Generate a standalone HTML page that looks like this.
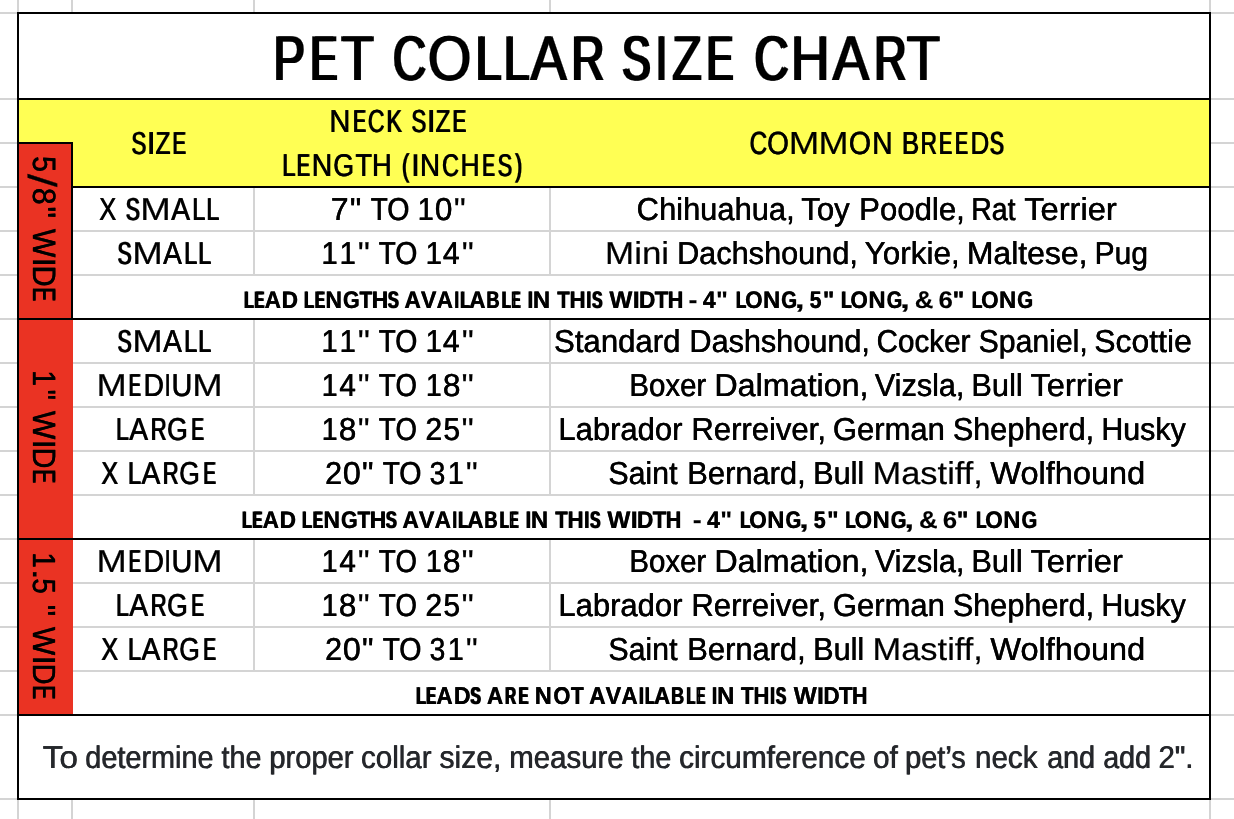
<!DOCTYPE html><html><head><meta charset="utf-8"><title>Pet Collar Size Chart</title><style>html,body{margin:0;padding:0;background:#fff;width:1234px;height:819px;overflow:hidden}svg{display:block}text{font-family:"Liberation Sans",sans-serif;text-rendering:geometricPrecision}</style></head><body>
<div style="will-change:transform;width:1234px;height:819px"><svg width="1234" height="819" viewBox="0 0 1234 819">
<g shape-rendering="crispEdges">
<rect x="0" y="0" width="1234" height="819" fill="#fff"/>
<rect x="0" y="12" width="17" height="2" fill="#d4d4d4"/>
<rect x="1211" y="12" width="23" height="2" fill="#d4d4d4"/>
<rect x="0" y="98" width="17" height="2" fill="#d4d4d4"/>
<rect x="1211" y="98" width="23" height="2" fill="#d4d4d4"/>
<rect x="0" y="142" width="17" height="2" fill="#d4d4d4"/>
<rect x="1211" y="142" width="23" height="2" fill="#d4d4d4"/>
<rect x="0" y="186" width="17" height="2" fill="#d4d4d4"/>
<rect x="1211" y="186" width="23" height="2" fill="#d4d4d4"/>
<rect x="0" y="230" width="17" height="2" fill="#d4d4d4"/>
<rect x="1211" y="230" width="23" height="2" fill="#d4d4d4"/>
<rect x="0" y="274" width="17" height="2" fill="#d4d4d4"/>
<rect x="1211" y="274" width="23" height="2" fill="#d4d4d4"/>
<rect x="0" y="318" width="17" height="2" fill="#d4d4d4"/>
<rect x="1211" y="318" width="23" height="2" fill="#d4d4d4"/>
<rect x="0" y="362" width="17" height="2" fill="#d4d4d4"/>
<rect x="1211" y="362" width="23" height="2" fill="#d4d4d4"/>
<rect x="0" y="406" width="17" height="2" fill="#d4d4d4"/>
<rect x="1211" y="406" width="23" height="2" fill="#d4d4d4"/>
<rect x="0" y="450" width="17" height="2" fill="#d4d4d4"/>
<rect x="1211" y="450" width="23" height="2" fill="#d4d4d4"/>
<rect x="0" y="494" width="17" height="2" fill="#d4d4d4"/>
<rect x="1211" y="494" width="23" height="2" fill="#d4d4d4"/>
<rect x="0" y="538" width="17" height="2" fill="#d4d4d4"/>
<rect x="1211" y="538" width="23" height="2" fill="#d4d4d4"/>
<rect x="0" y="582" width="17" height="2" fill="#d4d4d4"/>
<rect x="1211" y="582" width="23" height="2" fill="#d4d4d4"/>
<rect x="0" y="626" width="17" height="2" fill="#d4d4d4"/>
<rect x="1211" y="626" width="23" height="2" fill="#d4d4d4"/>
<rect x="0" y="670" width="17" height="2" fill="#d4d4d4"/>
<rect x="1211" y="670" width="23" height="2" fill="#d4d4d4"/>
<rect x="0" y="714" width="17" height="2" fill="#d4d4d4"/>
<rect x="1211" y="714" width="23" height="2" fill="#d4d4d4"/>
<rect x="0" y="798" width="17" height="2" fill="#d4d4d4"/>
<rect x="1211" y="798" width="23" height="2" fill="#d4d4d4"/>
<rect x="17" y="0" width="2" height="12" fill="#d4d4d4"/>
<rect x="17" y="800" width="2" height="19" fill="#d4d4d4"/>
<rect x="71" y="0" width="2" height="12" fill="#d4d4d4"/>
<rect x="71" y="800" width="2" height="19" fill="#d4d4d4"/>
<rect x="253" y="0" width="2" height="12" fill="#d4d4d4"/>
<rect x="253" y="800" width="2" height="19" fill="#d4d4d4"/>
<rect x="549" y="0" width="2" height="12" fill="#d4d4d4"/>
<rect x="549" y="800" width="2" height="19" fill="#d4d4d4"/>
<rect x="1209" y="0" width="2" height="12" fill="#d4d4d4"/>
<rect x="1209" y="800" width="2" height="19" fill="#d4d4d4"/>
<rect x="73" y="230" width="1136" height="2" fill="#d4d4d4"/>
<rect x="73" y="274" width="1136" height="2" fill="#d4d4d4"/>
<rect x="73" y="362" width="1136" height="2" fill="#d4d4d4"/>
<rect x="73" y="406" width="1136" height="2" fill="#d4d4d4"/>
<rect x="73" y="450" width="1136" height="2" fill="#d4d4d4"/>
<rect x="73" y="494" width="1136" height="2" fill="#d4d4d4"/>
<rect x="73" y="582" width="1136" height="2" fill="#d4d4d4"/>
<rect x="73" y="626" width="1136" height="2" fill="#d4d4d4"/>
<rect x="73" y="670" width="1136" height="2" fill="#d4d4d4"/>
<rect x="253" y="188" width="2" height="86" fill="#d4d4d4"/>
<rect x="549" y="188" width="2" height="86" fill="#d4d4d4"/>
<rect x="253" y="320" width="2" height="174" fill="#d4d4d4"/>
<rect x="549" y="320" width="2" height="174" fill="#d4d4d4"/>
<rect x="253" y="540" width="2" height="130" fill="#d4d4d4"/>
<rect x="549" y="540" width="2" height="130" fill="#d4d4d4"/>
<rect x="19" y="100" width="1190" height="86" fill="#ffff54"/>
<rect x="19" y="144" width="52" height="174" fill="#ea3323"/>
<rect x="19" y="320" width="54" height="218" fill="#ea3323"/>
<rect x="19" y="540" width="54" height="174" fill="#ea3323"/>
<rect x="17" y="12" width="1194" height="2" fill="#000"/>
<rect x="17" y="798" width="1194" height="2" fill="#000"/>
<rect x="17" y="12" width="2" height="788" fill="#000"/>
<rect x="1209" y="12" width="2" height="788" fill="#000"/>
<rect x="17" y="98" width="1194" height="2" fill="#000"/>
<rect x="17" y="142" width="56" height="2" fill="#000"/>
<rect x="71" y="142" width="2" height="178" fill="#000"/>
<rect x="71" y="186" width="1140" height="2" fill="#000"/>
<rect x="17" y="318" width="1194" height="2" fill="#000"/>
<rect x="17" y="538" width="1194" height="2" fill="#000"/>
<rect x="17" y="714" width="1194" height="2" fill="#000"/>
</g>
<text font-size="63.37" fill="#000" stroke="#000" stroke-width="0.2" vector-effect="non-scaling-stroke" transform="translate(272.26,79.80) scale(0.7504,1.0000)" xml:space="preserve">P</text>
<text font-size="63.37" fill="#000" stroke="#000" stroke-width="0.2" vector-effect="non-scaling-stroke" transform="translate(274.53,79.80) scale(0.7504,1.0000)" xml:space="preserve">P</text>
<text font-size="63.37" fill="#000" stroke="#000" stroke-width="0.2" vector-effect="non-scaling-stroke" transform="translate(309.08,79.80) scale(0.6324,1.0000)" xml:space="preserve">E</text>
<text font-size="63.37" fill="#000" stroke="#000" stroke-width="0.2" vector-effect="non-scaling-stroke" transform="translate(312.02,79.80) scale(0.6324,1.0000)" xml:space="preserve">E</text>
<text font-size="63.37" fill="#000" stroke="#000" stroke-width="0.2" vector-effect="non-scaling-stroke" transform="translate(340.12,79.80) scale(0.8601,1.0000)" xml:space="preserve">T</text>
<text font-size="63.37" fill="#000" stroke="#000" stroke-width="0.2" vector-effect="non-scaling-stroke" transform="translate(341.76,79.80) scale(0.8601,1.0000)" xml:space="preserve">T</text>
<text font-size="63.37" fill="#000" stroke="#000" stroke-width="0.2" vector-effect="non-scaling-stroke" transform="translate(391.73,79.80) scale(0.7304,1.0000)" xml:space="preserve">C</text>
<text font-size="63.37" fill="#000" stroke="#000" stroke-width="0.2" vector-effect="non-scaling-stroke" transform="translate(394.11,79.80) scale(0.7304,1.0000)" xml:space="preserve">C</text>
<text font-size="63.37" fill="#000" stroke="#000" stroke-width="0.2" vector-effect="non-scaling-stroke" transform="translate(427.04,79.80) scale(0.8855,1.0000)" xml:space="preserve">O</text>
<text font-size="63.37" fill="#000" stroke="#000" stroke-width="0.2" vector-effect="non-scaling-stroke" transform="translate(428.54,79.80) scale(0.8855,1.0000)" xml:space="preserve">O</text>
<text font-size="63.37" fill="#000" stroke="#000" stroke-width="0.2" vector-effect="non-scaling-stroke" transform="translate(474.33,79.80) scale(0.7376,1.0000)" xml:space="preserve">L</text>
<text font-size="63.37" fill="#000" stroke="#000" stroke-width="0.2" vector-effect="non-scaling-stroke" transform="translate(476.67,79.80) scale(0.7376,1.0000)" xml:space="preserve">L</text>
<text font-size="63.37" fill="#000" stroke="#000" stroke-width="0.2" vector-effect="non-scaling-stroke" transform="translate(502.53,79.80) scale(0.7376,1.0000)" xml:space="preserve">L</text>
<text font-size="63.37" fill="#000" stroke="#000" stroke-width="0.2" vector-effect="non-scaling-stroke" transform="translate(504.87,79.80) scale(0.7376,1.0000)" xml:space="preserve">L</text>
<text font-size="63.37" fill="#000" stroke="#000" stroke-width="0.2" vector-effect="non-scaling-stroke" transform="translate(529.69,79.80) scale(0.8527,1.0000)" xml:space="preserve">A</text>
<text font-size="63.37" fill="#000" stroke="#000" stroke-width="0.2" vector-effect="non-scaling-stroke" transform="translate(531.38,79.80) scale(0.8527,1.0000)" xml:space="preserve">A</text>
<text font-size="63.37" fill="#000" stroke="#000" stroke-width="0.2" vector-effect="non-scaling-stroke" transform="translate(570.33,79.80) scale(0.7187,1.0000)" xml:space="preserve">R</text>
<text font-size="63.37" fill="#000" stroke="#000" stroke-width="0.2" vector-effect="non-scaling-stroke" transform="translate(572.78,79.80) scale(0.7187,1.0000)" xml:space="preserve">R</text>
<text font-size="63.37" fill="#000" stroke="#000" stroke-width="0.2" vector-effect="non-scaling-stroke" transform="translate(620.76,79.80) scale(0.6739,1.0000)" xml:space="preserve">S</text>
<text font-size="63.37" fill="#000" stroke="#000" stroke-width="0.2" vector-effect="non-scaling-stroke" transform="translate(623.47,79.80) scale(0.6739,1.0000)" xml:space="preserve">S</text>
<text font-size="63.37" fill="#000" stroke="#000" stroke-width="0.2" vector-effect="non-scaling-stroke" transform="translate(654.00,79.80) scale(0.7660,1.0000)" xml:space="preserve">I</text>
<text font-size="63.37" fill="#000" stroke="#000" stroke-width="0.2" vector-effect="non-scaling-stroke" transform="translate(655.50,79.80) scale(0.7660,1.0000)" xml:space="preserve">I</text>
<text font-size="63.37" fill="#000" stroke="#000" stroke-width="0.2" vector-effect="non-scaling-stroke" transform="translate(671.17,79.80) scale(0.7626,1.0000)" xml:space="preserve">Z</text>
<text font-size="63.37" fill="#000" stroke="#000" stroke-width="0.2" vector-effect="non-scaling-stroke" transform="translate(673.37,79.80) scale(0.7626,1.0000)" xml:space="preserve">Z</text>
<text font-size="63.37" fill="#000" stroke="#000" stroke-width="0.2" vector-effect="non-scaling-stroke" transform="translate(705.18,79.80) scale(0.6324,1.0000)" xml:space="preserve">E</text>
<text font-size="63.37" fill="#000" stroke="#000" stroke-width="0.2" vector-effect="non-scaling-stroke" transform="translate(708.12,79.80) scale(0.6324,1.0000)" xml:space="preserve">E</text>
<text font-size="63.37" fill="#000" stroke="#000" stroke-width="0.2" vector-effect="non-scaling-stroke" transform="translate(753.37,79.80) scale(0.7479,1.0000)" xml:space="preserve">C</text>
<text font-size="63.37" fill="#000" stroke="#000" stroke-width="0.2" vector-effect="non-scaling-stroke" transform="translate(755.65,79.80) scale(0.7479,1.0000)" xml:space="preserve">C</text>
<text font-size="63.37" fill="#000" stroke="#000" stroke-width="0.2" vector-effect="non-scaling-stroke" transform="translate(789.71,79.80) scale(0.8543,1.0000)" xml:space="preserve">H</text>
<text font-size="63.37" fill="#000" stroke="#000" stroke-width="0.2" vector-effect="non-scaling-stroke" transform="translate(791.39,79.80) scale(0.8543,1.0000)" xml:space="preserve">H</text>
<text font-size="63.37" fill="#000" stroke="#000" stroke-width="0.2" vector-effect="non-scaling-stroke" transform="translate(831.79,79.80) scale(0.8637,1.0000)" xml:space="preserve">A</text>
<text font-size="63.37" fill="#000" stroke="#000" stroke-width="0.2" vector-effect="non-scaling-stroke" transform="translate(833.42,79.80) scale(0.8637,1.0000)" xml:space="preserve">A</text>
<text font-size="63.37" fill="#000" stroke="#000" stroke-width="0.2" vector-effect="non-scaling-stroke" transform="translate(873.09,79.80) scale(0.7061,1.0000)" xml:space="preserve">R</text>
<text font-size="63.37" fill="#000" stroke="#000" stroke-width="0.2" vector-effect="non-scaling-stroke" transform="translate(875.61,79.80) scale(0.7061,1.0000)" xml:space="preserve">R</text>
<text font-size="63.37" fill="#000" stroke="#000" stroke-width="0.2" vector-effect="non-scaling-stroke" transform="translate(905.80,79.80) scale(0.8733,1.0000)" xml:space="preserve">T</text>
<text font-size="63.37" fill="#000" stroke="#000" stroke-width="0.2" vector-effect="non-scaling-stroke" transform="translate(907.37,79.80) scale(0.8733,1.0000)" xml:space="preserve">T</text>
<text font-size="31.69" fill="#000" stroke="#000" stroke-width="0.2" vector-effect="non-scaling-stroke" transform="translate(130.95,153.80) scale(0.7007,1.0000)" xml:space="preserve">S</text>
<text font-size="31.69" fill="#000" stroke="#000" stroke-width="0.2" vector-effect="non-scaling-stroke" transform="translate(131.95,153.80) scale(0.7007,1.0000)" xml:space="preserve">S</text>
<text font-size="31.69" fill="#000" stroke="#000" stroke-width="0.2" vector-effect="non-scaling-stroke" transform="translate(146.47,153.80) scale(1.0872,1.0000)" xml:space="preserve">I</text>
<text font-size="31.69" fill="#000" stroke="#000" stroke-width="0.2" vector-effect="non-scaling-stroke" transform="translate(146.51,153.80) scale(1.0872,1.0000)" xml:space="preserve">I</text>
<text font-size="31.69" fill="#000" stroke="#000" stroke-width="0.2" vector-effect="non-scaling-stroke" transform="translate(155.14,153.80) scale(0.7644,1.0000)" xml:space="preserve">Z</text>
<text font-size="31.69" fill="#000" stroke="#000" stroke-width="0.2" vector-effect="non-scaling-stroke" transform="translate(155.95,153.80) scale(0.7644,1.0000)" xml:space="preserve">Z</text>
<text font-size="31.69" fill="#000" stroke="#000" stroke-width="0.2" vector-effect="non-scaling-stroke" transform="translate(171.91,153.80) scale(0.6447,1.0000)" xml:space="preserve">E</text>
<text font-size="31.69" fill="#000" stroke="#000" stroke-width="0.2" vector-effect="non-scaling-stroke" transform="translate(173.07,153.80) scale(0.6447,1.0000)" xml:space="preserve">E</text>
<text font-size="31.76" fill="#000" stroke="#000" stroke-width="0.2" vector-effect="non-scaling-stroke" transform="translate(329.19,131.90) scale(0.9199,1.0000)" xml:space="preserve">N</text>
<text font-size="31.76" fill="#000" stroke="#000" stroke-width="0.2" vector-effect="non-scaling-stroke" transform="translate(329.56,131.90) scale(0.9199,1.0000)" xml:space="preserve">N</text>
<text font-size="31.76" fill="#000" stroke="#000" stroke-width="0.2" vector-effect="non-scaling-stroke" transform="translate(352.39,131.90) scale(0.6117,1.0000)" xml:space="preserve">E</text>
<text font-size="31.76" fill="#000" stroke="#000" stroke-width="0.2" vector-effect="non-scaling-stroke" transform="translate(353.64,131.90) scale(0.6117,1.0000)" xml:space="preserve">E</text>
<text font-size="31.76" fill="#000" stroke="#000" stroke-width="0.2" vector-effect="non-scaling-stroke" transform="translate(367.41,131.90) scale(0.7298,1.0000)" xml:space="preserve">C</text>
<text font-size="31.76" fill="#000" stroke="#000" stroke-width="0.2" vector-effect="non-scaling-stroke" transform="translate(368.33,131.90) scale(0.7298,1.0000)" xml:space="preserve">C</text>
<text font-size="31.76" fill="#000" stroke="#000" stroke-width="0.2" vector-effect="non-scaling-stroke" transform="translate(386.09,131.90) scale(0.7272,1.0000)" xml:space="preserve">K</text>
<text font-size="31.76" fill="#000" stroke="#000" stroke-width="0.2" vector-effect="non-scaling-stroke" transform="translate(387.01,131.90) scale(0.7272,1.0000)" xml:space="preserve">K</text>
<text font-size="31.76" fill="#000" stroke="#000" stroke-width="0.2" vector-effect="non-scaling-stroke" transform="translate(411.06,131.90) scale(0.6953,1.0000)" xml:space="preserve">S</text>
<text font-size="31.76" fill="#000" stroke="#000" stroke-width="0.2" vector-effect="non-scaling-stroke" transform="translate(412.07,131.90) scale(0.6953,1.0000)" xml:space="preserve">S</text>
<text font-size="31.76" fill="#000" stroke="#000" stroke-width="0.2" vector-effect="non-scaling-stroke" transform="translate(426.56,131.90) scale(1.0933,1.0000)" xml:space="preserve">I</text>
<text font-size="31.76" fill="#000" stroke="#000" stroke-width="0.2" vector-effect="non-scaling-stroke" transform="translate(426.58,131.90) scale(1.0933,1.0000)" xml:space="preserve">I</text>
<text font-size="31.76" fill="#000" stroke="#000" stroke-width="0.2" vector-effect="non-scaling-stroke" transform="translate(435.24,131.90) scale(0.7647,1.0000)" xml:space="preserve">Z</text>
<text font-size="31.76" fill="#000" stroke="#000" stroke-width="0.2" vector-effect="non-scaling-stroke" transform="translate(436.05,131.90) scale(0.7647,1.0000)" xml:space="preserve">Z</text>
<text font-size="31.76" fill="#000" stroke="#000" stroke-width="0.2" vector-effect="non-scaling-stroke" transform="translate(452.02,131.90) scale(0.6394,1.0000)" xml:space="preserve">E</text>
<text font-size="31.76" fill="#000" stroke="#000" stroke-width="0.2" vector-effect="non-scaling-stroke" transform="translate(453.19,131.90) scale(0.6394,1.0000)" xml:space="preserve">E</text>
<text font-size="31.54" fill="#000" stroke="#000" stroke-width="0.2" vector-effect="non-scaling-stroke" transform="translate(281.68,175.50) scale(0.7704,1.0000)" xml:space="preserve">L</text>
<text font-size="31.54" fill="#000" stroke="#000" stroke-width="0.2" vector-effect="non-scaling-stroke" transform="translate(282.49,175.50) scale(0.7704,1.0000)" xml:space="preserve">L</text>
<text font-size="31.54" fill="#000" stroke="#000" stroke-width="0.2" vector-effect="non-scaling-stroke" transform="translate(296.37,175.50) scale(0.6216,1.0000)" xml:space="preserve">E</text>
<text font-size="31.54" fill="#000" stroke="#000" stroke-width="0.2" vector-effect="non-scaling-stroke" transform="translate(297.60,175.50) scale(0.6216,1.0000)" xml:space="preserve">E</text>
<text font-size="31.54" fill="#000" stroke="#000" stroke-width="0.2" vector-effect="non-scaling-stroke" transform="translate(311.54,175.50) scale(0.8995,1.0000)" xml:space="preserve">N</text>
<text font-size="31.54" fill="#000" stroke="#000" stroke-width="0.2" vector-effect="non-scaling-stroke" transform="translate(311.99,175.50) scale(0.8995,1.0000)" xml:space="preserve">N</text>
<text font-size="31.54" fill="#000" stroke="#000" stroke-width="0.2" vector-effect="non-scaling-stroke" transform="translate(332.92,175.50) scale(0.8493,1.0000)" xml:space="preserve">G</text>
<text font-size="31.54" fill="#000" stroke="#000" stroke-width="0.2" vector-effect="non-scaling-stroke" transform="translate(333.51,175.50) scale(0.8493,1.0000)" xml:space="preserve">G</text>
<text font-size="31.54" fill="#000" stroke="#000" stroke-width="0.2" vector-effect="non-scaling-stroke" transform="translate(355.26,175.50) scale(0.8584,1.0000)" xml:space="preserve">T</text>
<text font-size="31.54" fill="#000" stroke="#000" stroke-width="0.2" vector-effect="non-scaling-stroke" transform="translate(355.82,175.50) scale(0.8584,1.0000)" xml:space="preserve">T</text>
<text font-size="31.54" fill="#000" stroke="#000" stroke-width="0.2" vector-effect="non-scaling-stroke" transform="translate(371.63,175.50) scale(0.8657,1.0000)" xml:space="preserve">H</text>
<text font-size="31.54" fill="#000" stroke="#000" stroke-width="0.2" vector-effect="non-scaling-stroke" transform="translate(372.17,175.50) scale(0.8657,1.0000)" xml:space="preserve">H</text>
<text font-size="31.54" fill="#000" stroke="#000" stroke-width="0.2" vector-effect="non-scaling-stroke" transform="translate(401.43,175.50) scale(0.6865,1.0000)" xml:space="preserve">(</text>
<text font-size="31.54" fill="#000" stroke="#000" stroke-width="0.2" vector-effect="non-scaling-stroke" transform="translate(402.46,175.50) scale(0.6865,1.0000)" xml:space="preserve">(</text>
<text font-size="31.54" fill="#000" stroke="#000" stroke-width="0.2" vector-effect="non-scaling-stroke" transform="translate(410.44,175.50) scale(1.1333,1.0000)" xml:space="preserve">I</text>
<text font-size="31.54" fill="#000" stroke="#000" stroke-width="0.2" vector-effect="non-scaling-stroke" transform="translate(419.79,175.50) scale(0.8792,1.0000)" xml:space="preserve">N</text>
<text font-size="31.54" fill="#000" stroke="#000" stroke-width="0.2" vector-effect="non-scaling-stroke" transform="translate(420.30,175.50) scale(0.8792,1.0000)" xml:space="preserve">N</text>
<text font-size="31.54" fill="#000" stroke="#000" stroke-width="0.2" vector-effect="non-scaling-stroke" transform="translate(441.70,175.50) scale(0.7397,1.0000)" xml:space="preserve">C</text>
<text font-size="31.54" fill="#000" stroke="#000" stroke-width="0.2" vector-effect="non-scaling-stroke" transform="translate(442.60,175.50) scale(0.7397,1.0000)" xml:space="preserve">C</text>
<text font-size="31.54" fill="#000" stroke="#000" stroke-width="0.2" vector-effect="non-scaling-stroke" transform="translate(460.20,175.50) scale(0.8386,1.0000)" xml:space="preserve">H</text>
<text font-size="31.54" fill="#000" stroke="#000" stroke-width="0.2" vector-effect="non-scaling-stroke" transform="translate(460.82,175.50) scale(0.8386,1.0000)" xml:space="preserve">H</text>
<text font-size="31.54" fill="#000" stroke="#000" stroke-width="0.2" vector-effect="non-scaling-stroke" transform="translate(481.64,175.50) scale(0.5934,1.0000)" xml:space="preserve">E</text>
<text font-size="31.54" fill="#000" stroke="#000" stroke-width="0.2" vector-effect="non-scaling-stroke" transform="translate(482.95,175.50) scale(0.5934,1.0000)" xml:space="preserve">E</text>
<text font-size="31.54" fill="#000" stroke="#000" stroke-width="0.2" vector-effect="non-scaling-stroke" transform="translate(497.17,175.50) scale(0.6870,1.0000)" xml:space="preserve">S</text>
<text font-size="31.54" fill="#000" stroke="#000" stroke-width="0.2" vector-effect="non-scaling-stroke" transform="translate(498.22,175.50) scale(0.6870,1.0000)" xml:space="preserve">S</text>
<text font-size="31.54" fill="#000" stroke="#000" stroke-width="0.2" vector-effect="non-scaling-stroke" transform="translate(514.84,175.50) scale(0.6319,1.0000)" xml:space="preserve">)</text>
<text font-size="31.54" fill="#000" stroke="#000" stroke-width="0.2" vector-effect="non-scaling-stroke" transform="translate(516.03,175.50) scale(0.6319,1.0000)" xml:space="preserve">)</text>
<text font-size="31.98" fill="#000" stroke="#000" stroke-width="0.2" vector-effect="non-scaling-stroke" transform="translate(749.17,154.20) scale(0.7599,1.0000)" xml:space="preserve">C</text>
<text font-size="31.98" fill="#000" stroke="#000" stroke-width="0.2" vector-effect="non-scaling-stroke" transform="translate(749.98,154.20) scale(0.7599,1.0000)" xml:space="preserve">C</text>
<text font-size="31.98" fill="#000" stroke="#000" stroke-width="0.2" vector-effect="non-scaling-stroke" transform="translate(766.89,154.20) scale(0.8738,1.0000)" xml:space="preserve">O</text>
<text font-size="31.98" fill="#000" stroke="#000" stroke-width="0.2" vector-effect="non-scaling-stroke" transform="translate(767.37,154.20) scale(0.8738,1.0000)" xml:space="preserve">O</text>
<text font-size="31.98" fill="#000" stroke="#000" stroke-width="0.2" vector-effect="non-scaling-stroke" transform="translate(788.69,154.20) scale(1.1462,1.0000)" xml:space="preserve">M</text>
<text font-size="31.98" fill="#000" stroke="#000" stroke-width="0.2" vector-effect="non-scaling-stroke" transform="translate(818.54,154.20) scale(1.1275,1.0000)" xml:space="preserve">M</text>
<text font-size="31.98" fill="#000" stroke="#000" stroke-width="0.2" vector-effect="non-scaling-stroke" transform="translate(848.67,154.20) scale(0.8896,1.0000)" xml:space="preserve">O</text>
<text font-size="31.98" fill="#000" stroke="#000" stroke-width="0.2" vector-effect="non-scaling-stroke" transform="translate(849.11,154.20) scale(0.8896,1.0000)" xml:space="preserve">O</text>
<text font-size="31.98" fill="#000" stroke="#000" stroke-width="0.2" vector-effect="non-scaling-stroke" transform="translate(871.99,154.20) scale(0.8802,1.0000)" xml:space="preserve">N</text>
<text font-size="31.98" fill="#000" stroke="#000" stroke-width="0.2" vector-effect="non-scaling-stroke" transform="translate(872.46,154.20) scale(0.8802,1.0000)" xml:space="preserve">N</text>
<text font-size="31.98" fill="#000" stroke="#000" stroke-width="0.2" vector-effect="non-scaling-stroke" transform="translate(901.58,154.20) scale(0.8073,1.0000)" xml:space="preserve">B</text>
<text font-size="31.98" fill="#000" stroke="#000" stroke-width="0.2" vector-effect="non-scaling-stroke" transform="translate(902.26,154.20) scale(0.8073,1.0000)" xml:space="preserve">B</text>
<text font-size="31.98" fill="#000" stroke="#000" stroke-width="0.2" vector-effect="non-scaling-stroke" transform="translate(920.14,154.20) scale(0.7072,1.0000)" xml:space="preserve">R</text>
<text font-size="31.98" fill="#000" stroke="#000" stroke-width="0.2" vector-effect="non-scaling-stroke" transform="translate(921.11,154.20) scale(0.7072,1.0000)" xml:space="preserve">R</text>
<text font-size="31.98" fill="#000" stroke="#000" stroke-width="0.2" vector-effect="non-scaling-stroke" transform="translate(938.41,154.20) scale(0.6072,1.0000)" xml:space="preserve">E</text>
<text font-size="31.98" fill="#000" stroke="#000" stroke-width="0.2" vector-effect="non-scaling-stroke" transform="translate(939.66,154.20) scale(0.6072,1.0000)" xml:space="preserve">E</text>
<text font-size="31.98" fill="#000" stroke="#000" stroke-width="0.2" vector-effect="non-scaling-stroke" transform="translate(954.52,154.20) scale(0.6003,1.0000)" xml:space="preserve">E</text>
<text font-size="31.98" fill="#000" stroke="#000" stroke-width="0.2" vector-effect="non-scaling-stroke" transform="translate(955.79,154.20) scale(0.6003,1.0000)" xml:space="preserve">E</text>
<text font-size="31.98" fill="#000" stroke="#000" stroke-width="0.2" vector-effect="non-scaling-stroke" transform="translate(970.17,154.20) scale(0.8127,1.0000)" xml:space="preserve">D</text>
<text font-size="31.98" fill="#000" stroke="#000" stroke-width="0.2" vector-effect="non-scaling-stroke" transform="translate(970.83,154.20) scale(0.8127,1.0000)" xml:space="preserve">D</text>
<text font-size="31.98" fill="#000" stroke="#000" stroke-width="0.2" vector-effect="non-scaling-stroke" transform="translate(989.31,154.20) scale(0.6583,1.0000)" xml:space="preserve">S</text>
<text font-size="31.98" fill="#000" stroke="#000" stroke-width="0.2" vector-effect="non-scaling-stroke" transform="translate(990.42,154.20) scale(0.6583,1.0000)" xml:space="preserve">S</text>
<text font-size="31.69" fill="#000" stroke="#000" stroke-width="0.2" vector-effect="non-scaling-stroke" transform="translate(98.90,219.80) scale(0.8049,1.0000)" xml:space="preserve">X</text>
<text font-size="31.69" fill="#000" stroke="#000" stroke-width="0.2" vector-effect="non-scaling-stroke" transform="translate(99.60,219.80) scale(0.8049,1.0000)" xml:space="preserve">X</text>
<text font-size="31.69" fill="#000" stroke="#000" stroke-width="0.2" vector-effect="non-scaling-stroke" transform="translate(125.31,219.80) scale(0.6614,1.0000)" xml:space="preserve">S</text>
<text font-size="31.69" fill="#000" stroke="#000" stroke-width="0.2" vector-effect="non-scaling-stroke" transform="translate(126.42,219.80) scale(0.6614,1.0000)" xml:space="preserve">S</text>
<text font-size="31.69" fill="#000" stroke="#000" stroke-width="0.2" vector-effect="non-scaling-stroke" transform="translate(140.37,219.80) scale(1.1550,1.0000)" xml:space="preserve">M</text>
<text font-size="31.69" fill="#000" stroke="#000" stroke-width="0.2" vector-effect="non-scaling-stroke" transform="translate(171.09,219.80) scale(0.8877,1.0000)" xml:space="preserve">A</text>
<text font-size="31.69" fill="#000" stroke="#000" stroke-width="0.2" vector-effect="non-scaling-stroke" transform="translate(171.56,219.80) scale(0.8877,1.0000)" xml:space="preserve">A</text>
<text font-size="31.69" fill="#000" stroke="#000" stroke-width="0.2" vector-effect="non-scaling-stroke" transform="translate(191.97,219.80) scale(0.7358,1.0000)" xml:space="preserve">L</text>
<text font-size="31.69" fill="#000" stroke="#000" stroke-width="0.2" vector-effect="non-scaling-stroke" transform="translate(192.87,219.80) scale(0.7358,1.0000)" xml:space="preserve">L</text>
<text font-size="31.69" fill="#000" stroke="#000" stroke-width="0.2" vector-effect="non-scaling-stroke" transform="translate(205.97,219.80) scale(0.7358,1.0000)" xml:space="preserve">L</text>
<text font-size="31.69" fill="#000" stroke="#000" stroke-width="0.2" vector-effect="non-scaling-stroke" transform="translate(206.87,219.80) scale(0.7358,1.0000)" xml:space="preserve">L</text>
<text font-size="31.69" fill="#000" stroke="#000" stroke-width="0.2" vector-effect="non-scaling-stroke" transform="translate(330.75,219.80) scale(1.0151,1.0000)" xml:space="preserve">7</text>
<text font-size="31.69" fill="#000" stroke="#000" stroke-width="0.2" vector-effect="non-scaling-stroke" transform="translate(330.86,219.80) scale(1.0151,1.0000)" xml:space="preserve">7</text>
<text font-size="31.69" fill="#000" stroke="#000" stroke-width="0.2" vector-effect="non-scaling-stroke" transform="translate(349.81,219.80) scale(1.0075,1.0000)" xml:space="preserve">"</text>
<text font-size="31.69" fill="#000" stroke="#000" stroke-width="0.2" vector-effect="non-scaling-stroke" transform="translate(349.95,219.80) scale(1.0075,1.0000)" xml:space="preserve">"</text>
<text font-size="31.69" fill="#000" stroke="#000" stroke-width="0.2" vector-effect="non-scaling-stroke" transform="translate(370.44,219.80) scale(0.8786,1.0000)" xml:space="preserve">T</text>
<text font-size="31.69" fill="#000" stroke="#000" stroke-width="0.2" vector-effect="non-scaling-stroke" transform="translate(370.94,219.80) scale(0.8786,1.0000)" xml:space="preserve">T</text>
<text font-size="31.69" fill="#000" stroke="#000" stroke-width="0.2" vector-effect="non-scaling-stroke" transform="translate(386.95,219.80) scale(0.9002,1.0000)" xml:space="preserve">O</text>
<text font-size="31.69" fill="#000" stroke="#000" stroke-width="0.2" vector-effect="non-scaling-stroke" transform="translate(387.38,219.80) scale(0.9002,1.0000)" xml:space="preserve">O</text>
<text font-size="31.69" fill="#000" stroke="#000" stroke-width="0.2" vector-effect="non-scaling-stroke" transform="translate(417.54,219.80) scale(0.9083,1.0000)" xml:space="preserve">1</text>
<text font-size="31.69" fill="#000" stroke="#000" stroke-width="0.2" vector-effect="non-scaling-stroke" transform="translate(417.95,219.80) scale(0.9083,1.0000)" xml:space="preserve">1</text>
<text font-size="31.69" fill="#000" stroke="#000" stroke-width="0.2" vector-effect="non-scaling-stroke" transform="translate(434.86,219.80) scale(0.9939,1.0000)" xml:space="preserve">0</text>
<text font-size="31.69" fill="#000" stroke="#000" stroke-width="0.2" vector-effect="non-scaling-stroke" transform="translate(435.03,219.80) scale(0.9939,1.0000)" xml:space="preserve">0</text>
<text font-size="31.69" fill="#000" stroke="#000" stroke-width="0.2" vector-effect="non-scaling-stroke" transform="translate(453.63,219.80) scale(1.0706,1.0000)" xml:space="preserve">"</text>
<text font-size="31.69" fill="#000" stroke="#000" stroke-width="0.2" vector-effect="non-scaling-stroke" transform="translate(636.62,219.80) scale(0.9743,1.0000)" xml:space="preserve">Chihuahua,</text>
<text font-size="31.69" fill="#000" stroke="#000" stroke-width="0.2" vector-effect="non-scaling-stroke" transform="translate(636.84,219.80) scale(0.9743,1.0000)" xml:space="preserve">Chihuahua,</text>
<text font-size="31.69" fill="#000" stroke="#000" stroke-width="0.2" vector-effect="non-scaling-stroke" transform="translate(801.16,219.80) scale(0.9814,1.0000)" xml:space="preserve">Toy</text>
<text font-size="31.69" fill="#000" stroke="#000" stroke-width="0.2" vector-effect="non-scaling-stroke" transform="translate(801.37,219.80) scale(0.9814,1.0000)" xml:space="preserve">Toy</text>
<text font-size="31.69" fill="#000" stroke="#000" stroke-width="0.2" vector-effect="non-scaling-stroke" transform="translate(859.12,219.80) scale(0.9824,1.0000)" xml:space="preserve">Poodle,</text>
<text font-size="31.69" fill="#000" stroke="#000" stroke-width="0.2" vector-effect="non-scaling-stroke" transform="translate(859.32,219.80) scale(0.9824,1.0000)" xml:space="preserve">Poodle,</text>
<text font-size="31.69" fill="#000" stroke="#000" stroke-width="0.2" vector-effect="non-scaling-stroke" transform="translate(971.04,219.80) scale(0.8981,1.0000)" xml:space="preserve">Rat</text>
<text font-size="31.69" fill="#000" stroke="#000" stroke-width="0.2" vector-effect="non-scaling-stroke" transform="translate(971.48,219.80) scale(0.8981,1.0000)" xml:space="preserve">Rat</text>
<text font-size="31.69" fill="#000" stroke="#000" stroke-width="0.2" vector-effect="non-scaling-stroke" transform="translate(1024.23,219.80) scale(1.0298,1.0000)" xml:space="preserve">Terrier</text>
<text font-size="31.69" fill="#000" stroke="#000" stroke-width="0.2" vector-effect="non-scaling-stroke" transform="translate(1024.29,219.80) scale(1.0298,1.0000)" xml:space="preserve">Terrier</text>
<text font-size="31.69" fill="#000" stroke="#000" stroke-width="0.2" vector-effect="non-scaling-stroke" transform="translate(117.11,263.80) scale(0.6614,1.0000)" xml:space="preserve">S</text>
<text font-size="31.69" fill="#000" stroke="#000" stroke-width="0.2" vector-effect="non-scaling-stroke" transform="translate(118.22,263.80) scale(0.6614,1.0000)" xml:space="preserve">S</text>
<text font-size="31.69" fill="#000" stroke="#000" stroke-width="0.2" vector-effect="non-scaling-stroke" transform="translate(132.17,263.80) scale(1.1550,1.0000)" xml:space="preserve">M</text>
<text font-size="31.69" fill="#000" stroke="#000" stroke-width="0.2" vector-effect="non-scaling-stroke" transform="translate(162.89,263.80) scale(0.8877,1.0000)" xml:space="preserve">A</text>
<text font-size="31.69" fill="#000" stroke="#000" stroke-width="0.2" vector-effect="non-scaling-stroke" transform="translate(163.36,263.80) scale(0.8877,1.0000)" xml:space="preserve">A</text>
<text font-size="31.69" fill="#000" stroke="#000" stroke-width="0.2" vector-effect="non-scaling-stroke" transform="translate(183.77,263.80) scale(0.7358,1.0000)" xml:space="preserve">L</text>
<text font-size="31.69" fill="#000" stroke="#000" stroke-width="0.2" vector-effect="non-scaling-stroke" transform="translate(184.67,263.80) scale(0.7358,1.0000)" xml:space="preserve">L</text>
<text font-size="31.69" fill="#000" stroke="#000" stroke-width="0.2" vector-effect="non-scaling-stroke" transform="translate(197.77,263.80) scale(0.7358,1.0000)" xml:space="preserve">L</text>
<text font-size="31.69" fill="#000" stroke="#000" stroke-width="0.2" vector-effect="non-scaling-stroke" transform="translate(198.67,263.80) scale(0.7358,1.0000)" xml:space="preserve">L</text>
<text font-size="31.69" fill="#000" stroke="#000" stroke-width="0.2" vector-effect="non-scaling-stroke" transform="translate(321.32,263.80) scale(0.9175,1.0000)" xml:space="preserve">1</text>
<text font-size="31.69" fill="#000" stroke="#000" stroke-width="0.2" vector-effect="non-scaling-stroke" transform="translate(321.71,263.80) scale(0.9175,1.0000)" xml:space="preserve">1</text>
<text font-size="31.69" fill="#000" stroke="#000" stroke-width="0.2" vector-effect="non-scaling-stroke" transform="translate(339.42,263.80) scale(0.9175,1.0000)" xml:space="preserve">1</text>
<text font-size="31.69" fill="#000" stroke="#000" stroke-width="0.2" vector-effect="non-scaling-stroke" transform="translate(339.81,263.80) scale(0.9175,1.0000)" xml:space="preserve">1</text>
<text font-size="31.69" fill="#000" stroke="#000" stroke-width="0.2" vector-effect="non-scaling-stroke" transform="translate(357.71,263.80) scale(1.0824,1.0000)" xml:space="preserve">"</text>
<text font-size="31.69" fill="#000" stroke="#000" stroke-width="0.2" vector-effect="non-scaling-stroke" transform="translate(378.54,263.80) scale(0.8786,1.0000)" xml:space="preserve">T</text>
<text font-size="31.69" fill="#000" stroke="#000" stroke-width="0.2" vector-effect="non-scaling-stroke" transform="translate(379.04,263.80) scale(0.8786,1.0000)" xml:space="preserve">T</text>
<text font-size="31.69" fill="#000" stroke="#000" stroke-width="0.2" vector-effect="non-scaling-stroke" transform="translate(395.06,263.80) scale(0.8949,1.0000)" xml:space="preserve">O</text>
<text font-size="31.69" fill="#000" stroke="#000" stroke-width="0.2" vector-effect="non-scaling-stroke" transform="translate(395.51,263.80) scale(0.8949,1.0000)" xml:space="preserve">O</text>
<text font-size="31.69" fill="#000" stroke="#000" stroke-width="0.2" vector-effect="non-scaling-stroke" transform="translate(425.40,263.80) scale(0.9267,1.0000)" xml:space="preserve">1</text>
<text font-size="31.69" fill="#000" stroke="#000" stroke-width="0.2" vector-effect="non-scaling-stroke" transform="translate(425.76,263.80) scale(0.9267,1.0000)" xml:space="preserve">1</text>
<text font-size="31.69" fill="#000" stroke="#000" stroke-width="0.2" vector-effect="non-scaling-stroke" transform="translate(442.79,263.80) scale(0.9506,1.0000)" xml:space="preserve">4</text>
<text font-size="31.69" fill="#000" stroke="#000" stroke-width="0.2" vector-effect="non-scaling-stroke" transform="translate(443.08,263.80) scale(0.9506,1.0000)" xml:space="preserve">4</text>
<text font-size="31.69" fill="#000" stroke="#000" stroke-width="0.2" vector-effect="non-scaling-stroke" transform="translate(461.73,263.80) scale(1.0706,1.0000)" xml:space="preserve">"</text>
<text font-size="31.69" fill="#000" stroke="#000" stroke-width="0.2" vector-effect="non-scaling-stroke" transform="translate(605.11,263.80) scale(1.1016,1.0000)" xml:space="preserve">Mini</text>
<text font-size="31.69" fill="#000" stroke="#000" stroke-width="0.2" vector-effect="non-scaling-stroke" transform="translate(676.96,263.80) scale(0.9681,1.0000)" xml:space="preserve">Dachshound,</text>
<text font-size="31.69" fill="#000" stroke="#000" stroke-width="0.2" vector-effect="non-scaling-stroke" transform="translate(677.20,263.80) scale(0.9681,1.0000)" xml:space="preserve">Dachshound,</text>
<text font-size="31.69" fill="#000" stroke="#000" stroke-width="0.2" vector-effect="non-scaling-stroke" transform="translate(864.55,263.80) scale(0.9936,1.0000)" xml:space="preserve">Yorkie,</text>
<text font-size="31.69" fill="#000" stroke="#000" stroke-width="0.2" vector-effect="non-scaling-stroke" transform="translate(864.72,263.80) scale(0.9936,1.0000)" xml:space="preserve">Yorkie,</text>
<text font-size="31.69" fill="#000" stroke="#000" stroke-width="0.2" vector-effect="non-scaling-stroke" transform="translate(966.75,263.80) scale(1.0081,1.0000)" xml:space="preserve">Maltese,</text>
<text font-size="31.69" fill="#000" stroke="#000" stroke-width="0.2" vector-effect="non-scaling-stroke" transform="translate(966.88,263.80) scale(1.0081,1.0000)" xml:space="preserve">Maltese,</text>
<text font-size="31.69" fill="#000" stroke="#000" stroke-width="0.2" vector-effect="non-scaling-stroke" transform="translate(1094.52,263.80) scale(0.9448,1.0000)" xml:space="preserve">Pug</text>
<text font-size="31.69" fill="#000" stroke="#000" stroke-width="0.2" vector-effect="non-scaling-stroke" transform="translate(1094.83,263.80) scale(0.9448,1.0000)" xml:space="preserve">Pug</text>
<text font-size="31.69" fill="#000" stroke="#000" stroke-width="0.2" vector-effect="non-scaling-stroke" transform="translate(117.11,351.80) scale(0.6614,1.0000)" xml:space="preserve">S</text>
<text font-size="31.69" fill="#000" stroke="#000" stroke-width="0.2" vector-effect="non-scaling-stroke" transform="translate(118.22,351.80) scale(0.6614,1.0000)" xml:space="preserve">S</text>
<text font-size="31.69" fill="#000" stroke="#000" stroke-width="0.2" vector-effect="non-scaling-stroke" transform="translate(132.17,351.80) scale(1.1550,1.0000)" xml:space="preserve">M</text>
<text font-size="31.69" fill="#000" stroke="#000" stroke-width="0.2" vector-effect="non-scaling-stroke" transform="translate(162.89,351.80) scale(0.8877,1.0000)" xml:space="preserve">A</text>
<text font-size="31.69" fill="#000" stroke="#000" stroke-width="0.2" vector-effect="non-scaling-stroke" transform="translate(163.36,351.80) scale(0.8877,1.0000)" xml:space="preserve">A</text>
<text font-size="31.69" fill="#000" stroke="#000" stroke-width="0.2" vector-effect="non-scaling-stroke" transform="translate(183.77,351.80) scale(0.7358,1.0000)" xml:space="preserve">L</text>
<text font-size="31.69" fill="#000" stroke="#000" stroke-width="0.2" vector-effect="non-scaling-stroke" transform="translate(184.67,351.80) scale(0.7358,1.0000)" xml:space="preserve">L</text>
<text font-size="31.69" fill="#000" stroke="#000" stroke-width="0.2" vector-effect="non-scaling-stroke" transform="translate(197.77,351.80) scale(0.7358,1.0000)" xml:space="preserve">L</text>
<text font-size="31.69" fill="#000" stroke="#000" stroke-width="0.2" vector-effect="non-scaling-stroke" transform="translate(198.67,351.80) scale(0.7358,1.0000)" xml:space="preserve">L</text>
<text font-size="31.69" fill="#000" stroke="#000" stroke-width="0.2" vector-effect="non-scaling-stroke" transform="translate(321.32,351.80) scale(0.9175,1.0000)" xml:space="preserve">1</text>
<text font-size="31.69" fill="#000" stroke="#000" stroke-width="0.2" vector-effect="non-scaling-stroke" transform="translate(321.71,351.80) scale(0.9175,1.0000)" xml:space="preserve">1</text>
<text font-size="31.69" fill="#000" stroke="#000" stroke-width="0.2" vector-effect="non-scaling-stroke" transform="translate(339.42,351.80) scale(0.9175,1.0000)" xml:space="preserve">1</text>
<text font-size="31.69" fill="#000" stroke="#000" stroke-width="0.2" vector-effect="non-scaling-stroke" transform="translate(339.81,351.80) scale(0.9175,1.0000)" xml:space="preserve">1</text>
<text font-size="31.69" fill="#000" stroke="#000" stroke-width="0.2" vector-effect="non-scaling-stroke" transform="translate(357.71,351.80) scale(1.0824,1.0000)" xml:space="preserve">"</text>
<text font-size="31.69" fill="#000" stroke="#000" stroke-width="0.2" vector-effect="non-scaling-stroke" transform="translate(378.54,351.80) scale(0.8786,1.0000)" xml:space="preserve">T</text>
<text font-size="31.69" fill="#000" stroke="#000" stroke-width="0.2" vector-effect="non-scaling-stroke" transform="translate(379.04,351.80) scale(0.8786,1.0000)" xml:space="preserve">T</text>
<text font-size="31.69" fill="#000" stroke="#000" stroke-width="0.2" vector-effect="non-scaling-stroke" transform="translate(395.06,351.80) scale(0.8949,1.0000)" xml:space="preserve">O</text>
<text font-size="31.69" fill="#000" stroke="#000" stroke-width="0.2" vector-effect="non-scaling-stroke" transform="translate(395.51,351.80) scale(0.8949,1.0000)" xml:space="preserve">O</text>
<text font-size="31.69" fill="#000" stroke="#000" stroke-width="0.2" vector-effect="non-scaling-stroke" transform="translate(425.40,351.80) scale(0.9267,1.0000)" xml:space="preserve">1</text>
<text font-size="31.69" fill="#000" stroke="#000" stroke-width="0.2" vector-effect="non-scaling-stroke" transform="translate(425.76,351.80) scale(0.9267,1.0000)" xml:space="preserve">1</text>
<text font-size="31.69" fill="#000" stroke="#000" stroke-width="0.2" vector-effect="non-scaling-stroke" transform="translate(442.79,351.80) scale(0.9506,1.0000)" xml:space="preserve">4</text>
<text font-size="31.69" fill="#000" stroke="#000" stroke-width="0.2" vector-effect="non-scaling-stroke" transform="translate(443.08,351.80) scale(0.9506,1.0000)" xml:space="preserve">4</text>
<text font-size="31.69" fill="#000" stroke="#000" stroke-width="0.2" vector-effect="non-scaling-stroke" transform="translate(461.73,351.80) scale(1.0706,1.0000)" xml:space="preserve">"</text>
<text font-size="31.69" fill="#000" stroke="#000" stroke-width="0.2" vector-effect="non-scaling-stroke" transform="translate(553.93,351.80) scale(0.9832,1.0000)" xml:space="preserve">Standard</text>
<text font-size="31.69" fill="#000" stroke="#000" stroke-width="0.2" vector-effect="non-scaling-stroke" transform="translate(554.12,351.80) scale(0.9832,1.0000)" xml:space="preserve">Standard</text>
<text font-size="31.69" fill="#000" stroke="#000" stroke-width="0.2" vector-effect="non-scaling-stroke" transform="translate(689.26,351.80) scale(0.9669,1.0000)" xml:space="preserve">Dashshound,</text>
<text font-size="31.69" fill="#000" stroke="#000" stroke-width="0.2" vector-effect="non-scaling-stroke" transform="translate(689.50,351.80) scale(0.9669,1.0000)" xml:space="preserve">Dashshound,</text>
<text font-size="31.69" fill="#000" stroke="#000" stroke-width="0.2" vector-effect="non-scaling-stroke" transform="translate(876.48,351.80) scale(0.9340,1.0000)" xml:space="preserve">Cocker</text>
<text font-size="31.69" fill="#000" stroke="#000" stroke-width="0.2" vector-effect="non-scaling-stroke" transform="translate(876.82,351.80) scale(0.9340,1.0000)" xml:space="preserve">Cocker</text>
<text font-size="31.69" fill="#000" stroke="#000" stroke-width="0.2" vector-effect="non-scaling-stroke" transform="translate(978.47,351.80) scale(0.9536,1.0000)" xml:space="preserve">Spaniel,</text>
<text font-size="31.69" fill="#000" stroke="#000" stroke-width="0.2" vector-effect="non-scaling-stroke" transform="translate(978.75,351.80) scale(0.9536,1.0000)" xml:space="preserve">Spaniel,</text>
<text font-size="31.69" fill="#000" stroke="#000" stroke-width="0.2" vector-effect="non-scaling-stroke" transform="translate(1094.19,351.80) scale(1.0082,1.0000)" xml:space="preserve">Scottie</text>
<text font-size="31.69" fill="#000" stroke="#000" stroke-width="0.2" vector-effect="non-scaling-stroke" transform="translate(1094.31,351.80) scale(1.0082,1.0000)" xml:space="preserve">Scottie</text>
<text font-size="31.69" fill="#000" stroke="#000" stroke-width="0.2" vector-effect="non-scaling-stroke" transform="translate(96.39,395.80) scale(1.1456,1.0000)" xml:space="preserve">M</text>
<text font-size="31.69" fill="#000" stroke="#000" stroke-width="0.2" vector-effect="non-scaling-stroke" transform="translate(128.21,395.80) scale(0.5677,1.0000)" xml:space="preserve">E</text>
<text font-size="31.69" fill="#000" stroke="#000" stroke-width="0.2" vector-effect="non-scaling-stroke" transform="translate(129.59,395.80) scale(0.5677,1.0000)" xml:space="preserve">E</text>
<text font-size="31.69" fill="#000" stroke="#000" stroke-width="0.2" vector-effect="non-scaling-stroke" transform="translate(143.36,395.80) scale(0.8932,1.0000)" xml:space="preserve">D</text>
<text font-size="31.69" fill="#000" stroke="#000" stroke-width="0.2" vector-effect="non-scaling-stroke" transform="translate(143.81,395.80) scale(0.8932,1.0000)" xml:space="preserve">D</text>
<text font-size="31.69" fill="#000" stroke="#000" stroke-width="0.2" vector-effect="non-scaling-stroke" transform="translate(164.43,395.80) scale(0.6500,1.0000)" xml:space="preserve">I</text>
<text font-size="31.69" fill="#000" stroke="#000" stroke-width="0.2" vector-effect="non-scaling-stroke" transform="translate(165.08,395.80) scale(0.6500,1.0000)" xml:space="preserve">I</text>
<text font-size="31.69" fill="#000" stroke="#000" stroke-width="0.2" vector-effect="non-scaling-stroke" transform="translate(171.32,395.80) scale(0.9119,1.0000)" xml:space="preserve">U</text>
<text font-size="31.69" fill="#000" stroke="#000" stroke-width="0.2" vector-effect="non-scaling-stroke" transform="translate(171.72,395.80) scale(0.9119,1.0000)" xml:space="preserve">U</text>
<text font-size="31.69" fill="#000" stroke="#000" stroke-width="0.2" vector-effect="non-scaling-stroke" transform="translate(192.18,395.80) scale(1.1503,1.0000)" xml:space="preserve">M</text>
<text font-size="31.69" fill="#000" stroke="#000" stroke-width="0.2" vector-effect="non-scaling-stroke" transform="translate(321.46,395.80) scale(0.8992,1.0000)" xml:space="preserve">1</text>
<text font-size="31.69" fill="#000" stroke="#000" stroke-width="0.2" vector-effect="non-scaling-stroke" transform="translate(321.90,395.80) scale(0.8992,1.0000)" xml:space="preserve">1</text>
<text font-size="31.69" fill="#000" stroke="#000" stroke-width="0.2" vector-effect="non-scaling-stroke" transform="translate(339.20,395.80) scale(0.9354,1.0000)" xml:space="preserve">4</text>
<text font-size="31.69" fill="#000" stroke="#000" stroke-width="0.2" vector-effect="non-scaling-stroke" transform="translate(339.53,395.80) scale(0.9354,1.0000)" xml:space="preserve">4</text>
<text font-size="31.69" fill="#000" stroke="#000" stroke-width="0.2" vector-effect="non-scaling-stroke" transform="translate(357.74,395.80) scale(1.0588,1.0000)" xml:space="preserve">"</text>
<text font-size="31.69" fill="#000" stroke="#000" stroke-width="0.2" vector-effect="non-scaling-stroke" transform="translate(378.44,395.80) scale(0.8786,1.0000)" xml:space="preserve">T</text>
<text font-size="31.69" fill="#000" stroke="#000" stroke-width="0.2" vector-effect="non-scaling-stroke" transform="translate(378.94,395.80) scale(0.8786,1.0000)" xml:space="preserve">T</text>
<text font-size="31.69" fill="#000" stroke="#000" stroke-width="0.2" vector-effect="non-scaling-stroke" transform="translate(395.30,395.80) scale(0.8683,1.0000)" xml:space="preserve">O</text>
<text font-size="31.69" fill="#000" stroke="#000" stroke-width="0.2" vector-effect="non-scaling-stroke" transform="translate(395.82,395.80) scale(0.8683,1.0000)" xml:space="preserve">O</text>
<text font-size="31.69" fill="#000" stroke="#000" stroke-width="0.2" vector-effect="non-scaling-stroke" transform="translate(425.69,395.80) scale(0.8900,1.0000)" xml:space="preserve">1</text>
<text font-size="31.69" fill="#000" stroke="#000" stroke-width="0.2" vector-effect="non-scaling-stroke" transform="translate(426.15,395.80) scale(0.8900,1.0000)" xml:space="preserve">1</text>
<text font-size="31.69" fill="#000" stroke="#000" stroke-width="0.2" vector-effect="non-scaling-stroke" transform="translate(442.83,395.80) scale(0.9979,1.0000)" xml:space="preserve">8</text>
<text font-size="31.69" fill="#000" stroke="#000" stroke-width="0.2" vector-effect="non-scaling-stroke" transform="translate(442.98,395.80) scale(0.9979,1.0000)" xml:space="preserve">8</text>
<text font-size="31.69" fill="#000" stroke="#000" stroke-width="0.2" vector-effect="non-scaling-stroke" transform="translate(461.60,395.80) scale(1.0941,1.0000)" xml:space="preserve">"</text>
<text font-size="31.69" fill="#000" stroke="#000" stroke-width="0.2" vector-effect="non-scaling-stroke" transform="translate(629.27,395.80) scale(0.9274,1.0000)" xml:space="preserve">Boxer</text>
<text font-size="31.69" fill="#000" stroke="#000" stroke-width="0.2" vector-effect="non-scaling-stroke" transform="translate(629.62,395.80) scale(0.9274,1.0000)" xml:space="preserve">Boxer</text>
<text font-size="31.69" fill="#000" stroke="#000" stroke-width="0.2" vector-effect="non-scaling-stroke" transform="translate(714.33,395.80) scale(1.0178,1.0000)" xml:space="preserve">Dalmation,</text>
<text font-size="31.69" fill="#000" stroke="#000" stroke-width="0.2" vector-effect="non-scaling-stroke" transform="translate(714.43,395.80) scale(1.0178,1.0000)" xml:space="preserve">Dalmation,</text>
<text font-size="31.69" fill="#000" stroke="#000" stroke-width="0.2" vector-effect="non-scaling-stroke" transform="translate(874.76,395.80) scale(0.9646,1.0000)" xml:space="preserve">Vizsla,</text>
<text font-size="31.69" fill="#000" stroke="#000" stroke-width="0.2" vector-effect="non-scaling-stroke" transform="translate(875.01,395.80) scale(0.9646,1.0000)" xml:space="preserve">Vizsla,</text>
<text font-size="31.69" fill="#000" stroke="#000" stroke-width="0.2" vector-effect="non-scaling-stroke" transform="translate(971.35,395.80) scale(0.9697,1.0000)" xml:space="preserve">Bull</text>
<text font-size="31.69" fill="#000" stroke="#000" stroke-width="0.2" vector-effect="non-scaling-stroke" transform="translate(971.59,395.80) scale(0.9697,1.0000)" xml:space="preserve">Bull</text>
<text font-size="31.69" fill="#000" stroke="#000" stroke-width="0.2" vector-effect="non-scaling-stroke" transform="translate(1030.43,395.80) scale(1.0286,1.0000)" xml:space="preserve">Terrier</text>
<text font-size="31.69" fill="#000" stroke="#000" stroke-width="0.2" vector-effect="non-scaling-stroke" transform="translate(1030.50,395.80) scale(1.0286,1.0000)" xml:space="preserve">Terrier</text>
<text font-size="31.69" fill="#000" stroke="#000" stroke-width="0.2" vector-effect="non-scaling-stroke" transform="translate(115.45,439.80) scale(0.7447,1.0000)" xml:space="preserve">L</text>
<text font-size="31.69" fill="#000" stroke="#000" stroke-width="0.2" vector-effect="non-scaling-stroke" transform="translate(116.32,439.80) scale(0.7447,1.0000)" xml:space="preserve">L</text>
<text font-size="31.69" fill="#000" stroke="#000" stroke-width="0.2" vector-effect="non-scaling-stroke" transform="translate(129.09,439.80) scale(0.8877,1.0000)" xml:space="preserve">A</text>
<text font-size="31.69" fill="#000" stroke="#000" stroke-width="0.2" vector-effect="non-scaling-stroke" transform="translate(129.56,439.80) scale(0.8877,1.0000)" xml:space="preserve">A</text>
<text font-size="31.69" fill="#000" stroke="#000" stroke-width="0.2" vector-effect="non-scaling-stroke" transform="translate(150.18,439.80) scale(0.6920,1.0000)" xml:space="preserve">R</text>
<text font-size="31.69" fill="#000" stroke="#000" stroke-width="0.2" vector-effect="non-scaling-stroke" transform="translate(151.21,439.80) scale(0.6920,1.0000)" xml:space="preserve">R</text>
<text font-size="31.69" fill="#000" stroke="#000" stroke-width="0.2" vector-effect="non-scaling-stroke" transform="translate(166.85,439.80) scale(0.8327,1.0000)" xml:space="preserve">G</text>
<text font-size="31.69" fill="#000" stroke="#000" stroke-width="0.2" vector-effect="non-scaling-stroke" transform="translate(167.47,439.80) scale(0.8327,1.0000)" xml:space="preserve">G</text>
<text font-size="31.69" fill="#000" stroke="#000" stroke-width="0.2" vector-effect="non-scaling-stroke" transform="translate(190.64,439.80) scale(0.5957,1.0000)" xml:space="preserve">E</text>
<text font-size="31.69" fill="#000" stroke="#000" stroke-width="0.2" vector-effect="non-scaling-stroke" transform="translate(191.93,439.80) scale(0.5957,1.0000)" xml:space="preserve">E</text>
<text font-size="31.69" fill="#000" stroke="#000" stroke-width="0.2" vector-effect="non-scaling-stroke" transform="translate(321.46,439.80) scale(0.8992,1.0000)" xml:space="preserve">1</text>
<text font-size="31.69" fill="#000" stroke="#000" stroke-width="0.2" vector-effect="non-scaling-stroke" transform="translate(321.90,439.80) scale(0.8992,1.0000)" xml:space="preserve">1</text>
<text font-size="31.69" fill="#000" stroke="#000" stroke-width="0.2" vector-effect="non-scaling-stroke" transform="translate(338.74,439.80) scale(0.9896,1.0000)" xml:space="preserve">8</text>
<text font-size="31.69" fill="#000" stroke="#000" stroke-width="0.2" vector-effect="non-scaling-stroke" transform="translate(338.92,439.80) scale(0.9896,1.0000)" xml:space="preserve">8</text>
<text font-size="31.69" fill="#000" stroke="#000" stroke-width="0.2" vector-effect="non-scaling-stroke" transform="translate(357.74,439.80) scale(1.0588,1.0000)" xml:space="preserve">"</text>
<text font-size="31.69" fill="#000" stroke="#000" stroke-width="0.2" vector-effect="non-scaling-stroke" transform="translate(378.44,439.80) scale(0.8786,1.0000)" xml:space="preserve">T</text>
<text font-size="31.69" fill="#000" stroke="#000" stroke-width="0.2" vector-effect="non-scaling-stroke" transform="translate(378.94,439.80) scale(0.8786,1.0000)" xml:space="preserve">T</text>
<text font-size="31.69" fill="#000" stroke="#000" stroke-width="0.2" vector-effect="non-scaling-stroke" transform="translate(395.30,439.80) scale(0.8683,1.0000)" xml:space="preserve">O</text>
<text font-size="31.69" fill="#000" stroke="#000" stroke-width="0.2" vector-effect="non-scaling-stroke" transform="translate(395.82,439.80) scale(0.8683,1.0000)" xml:space="preserve">O</text>
<text font-size="31.69" fill="#000" stroke="#000" stroke-width="0.2" vector-effect="non-scaling-stroke" transform="translate(425.36,439.80) scale(0.9458,1.0000)" xml:space="preserve">2</text>
<text font-size="31.69" fill="#000" stroke="#000" stroke-width="0.2" vector-effect="non-scaling-stroke" transform="translate(425.67,439.80) scale(0.9458,1.0000)" xml:space="preserve">2</text>
<text font-size="31.69" fill="#000" stroke="#000" stroke-width="0.2" vector-effect="non-scaling-stroke" transform="translate(443.33,439.80) scale(0.9383,1.0000)" xml:space="preserve">5</text>
<text font-size="31.69" fill="#000" stroke="#000" stroke-width="0.2" vector-effect="non-scaling-stroke" transform="translate(443.65,439.80) scale(0.9383,1.0000)" xml:space="preserve">5</text>
<text font-size="31.69" fill="#000" stroke="#000" stroke-width="0.2" vector-effect="non-scaling-stroke" transform="translate(461.60,439.80) scale(1.0941,1.0000)" xml:space="preserve">"</text>
<text font-size="31.69" fill="#000" stroke="#000" stroke-width="0.2" vector-effect="non-scaling-stroke" transform="translate(558.23,439.80) scale(0.9787,1.0000)" xml:space="preserve">Labrador</text>
<text font-size="31.69" fill="#000" stroke="#000" stroke-width="0.2" vector-effect="non-scaling-stroke" transform="translate(558.44,439.80) scale(0.9787,1.0000)" xml:space="preserve">Labrador</text>
<text font-size="31.69" fill="#000" stroke="#000" stroke-width="0.2" vector-effect="non-scaling-stroke" transform="translate(691.23,439.80) scale(0.9804,1.0000)" xml:space="preserve">Rerreiver,</text>
<text font-size="31.69" fill="#000" stroke="#000" stroke-width="0.2" vector-effect="non-scaling-stroke" transform="translate(691.43,439.80) scale(0.9804,1.0000)" xml:space="preserve">Rerreiver,</text>
<text font-size="31.69" fill="#000" stroke="#000" stroke-width="0.2" vector-effect="non-scaling-stroke" transform="translate(832.81,439.80) scale(0.9778,1.0000)" xml:space="preserve">German</text>
<text font-size="31.69" fill="#000" stroke="#000" stroke-width="0.2" vector-effect="non-scaling-stroke" transform="translate(833.02,439.80) scale(0.9778,1.0000)" xml:space="preserve">German</text>
<text font-size="31.69" fill="#000" stroke="#000" stroke-width="0.2" vector-effect="non-scaling-stroke" transform="translate(952.65,439.80) scale(0.9667,1.0000)" xml:space="preserve">Shepherd,</text>
<text font-size="31.69" fill="#000" stroke="#000" stroke-width="0.2" vector-effect="non-scaling-stroke" transform="translate(952.89,439.80) scale(0.9667,1.0000)" xml:space="preserve">Shepherd,</text>
<text font-size="31.69" fill="#000" stroke="#000" stroke-width="0.2" vector-effect="non-scaling-stroke" transform="translate(1101.18,439.80) scale(0.9585,1.0000)" xml:space="preserve">Husky</text>
<text font-size="31.69" fill="#000" stroke="#000" stroke-width="0.2" vector-effect="non-scaling-stroke" transform="translate(1101.45,439.80) scale(0.9585,1.0000)" xml:space="preserve">Husky</text>
<text font-size="31.69" fill="#000" stroke="#000" stroke-width="0.2" vector-effect="non-scaling-stroke" transform="translate(101.01,483.80) scale(0.7930,1.0000)" xml:space="preserve">X</text>
<text font-size="31.69" fill="#000" stroke="#000" stroke-width="0.2" vector-effect="non-scaling-stroke" transform="translate(101.74,483.80) scale(0.7930,1.0000)" xml:space="preserve">X</text>
<text font-size="31.69" fill="#000" stroke="#000" stroke-width="0.2" vector-effect="non-scaling-stroke" transform="translate(127.55,483.80) scale(0.7447,1.0000)" xml:space="preserve">L</text>
<text font-size="31.69" fill="#000" stroke="#000" stroke-width="0.2" vector-effect="non-scaling-stroke" transform="translate(128.42,483.80) scale(0.7447,1.0000)" xml:space="preserve">L</text>
<text font-size="31.69" fill="#000" stroke="#000" stroke-width="0.2" vector-effect="non-scaling-stroke" transform="translate(141.19,483.80) scale(0.8877,1.0000)" xml:space="preserve">A</text>
<text font-size="31.69" fill="#000" stroke="#000" stroke-width="0.2" vector-effect="non-scaling-stroke" transform="translate(141.66,483.80) scale(0.8877,1.0000)" xml:space="preserve">A</text>
<text font-size="31.69" fill="#000" stroke="#000" stroke-width="0.2" vector-effect="non-scaling-stroke" transform="translate(162.28,483.80) scale(0.6920,1.0000)" xml:space="preserve">R</text>
<text font-size="31.69" fill="#000" stroke="#000" stroke-width="0.2" vector-effect="non-scaling-stroke" transform="translate(163.31,483.80) scale(0.6920,1.0000)" xml:space="preserve">R</text>
<text font-size="31.69" fill="#000" stroke="#000" stroke-width="0.2" vector-effect="non-scaling-stroke" transform="translate(178.95,483.80) scale(0.8327,1.0000)" xml:space="preserve">G</text>
<text font-size="31.69" fill="#000" stroke="#000" stroke-width="0.2" vector-effect="non-scaling-stroke" transform="translate(179.57,483.80) scale(0.8327,1.0000)" xml:space="preserve">G</text>
<text font-size="31.69" fill="#000" stroke="#000" stroke-width="0.2" vector-effect="non-scaling-stroke" transform="translate(202.74,483.80) scale(0.5957,1.0000)" xml:space="preserve">E</text>
<text font-size="31.69" fill="#000" stroke="#000" stroke-width="0.2" vector-effect="non-scaling-stroke" transform="translate(204.03,483.80) scale(0.5957,1.0000)" xml:space="preserve">E</text>
<text font-size="31.69" fill="#000" stroke="#000" stroke-width="0.2" vector-effect="non-scaling-stroke" transform="translate(325.03,483.80) scale(0.9631,1.0000)" xml:space="preserve">2</text>
<text font-size="31.69" fill="#000" stroke="#000" stroke-width="0.2" vector-effect="non-scaling-stroke" transform="translate(325.29,483.80) scale(0.9631,1.0000)" xml:space="preserve">2</text>
<text font-size="31.69" fill="#000" stroke="#000" stroke-width="0.2" vector-effect="non-scaling-stroke" transform="translate(342.83,483.80) scale(1.0183,1.0000)" xml:space="preserve">0</text>
<text font-size="31.69" fill="#000" stroke="#000" stroke-width="0.2" vector-effect="non-scaling-stroke" transform="translate(342.93,483.80) scale(1.0183,1.0000)" xml:space="preserve">0</text>
<text font-size="31.69" fill="#000" stroke="#000" stroke-width="0.2" vector-effect="non-scaling-stroke" transform="translate(361.89,483.80) scale(1.0250,1.0000)" xml:space="preserve">"</text>
<text font-size="31.69" fill="#000" stroke="#000" stroke-width="0.2" vector-effect="non-scaling-stroke" transform="translate(361.98,483.80) scale(1.0250,1.0000)" xml:space="preserve">"</text>
<text font-size="31.69" fill="#000" stroke="#000" stroke-width="0.2" vector-effect="non-scaling-stroke" transform="translate(382.44,483.80) scale(0.8853,1.0000)" xml:space="preserve">T</text>
<text font-size="31.69" fill="#000" stroke="#000" stroke-width="0.2" vector-effect="non-scaling-stroke" transform="translate(382.91,483.80) scale(0.8853,1.0000)" xml:space="preserve">T</text>
<text font-size="31.69" fill="#000" stroke="#000" stroke-width="0.2" vector-effect="non-scaling-stroke" transform="translate(398.95,483.80) scale(0.9002,1.0000)" xml:space="preserve">O</text>
<text font-size="31.69" fill="#000" stroke="#000" stroke-width="0.2" vector-effect="non-scaling-stroke" transform="translate(399.38,483.80) scale(0.9002,1.0000)" xml:space="preserve">O</text>
<text font-size="31.69" fill="#000" stroke="#000" stroke-width="0.2" vector-effect="non-scaling-stroke" transform="translate(429.39,483.80) scale(0.8890,1.0000)" xml:space="preserve">3</text>
<text font-size="31.69" fill="#000" stroke="#000" stroke-width="0.2" vector-effect="non-scaling-stroke" transform="translate(429.85,483.80) scale(0.8890,1.0000)" xml:space="preserve">3</text>
<text font-size="31.69" fill="#000" stroke="#000" stroke-width="0.2" vector-effect="non-scaling-stroke" transform="translate(447.66,483.80) scale(0.8992,1.0000)" xml:space="preserve">1</text>
<text font-size="31.69" fill="#000" stroke="#000" stroke-width="0.2" vector-effect="non-scaling-stroke" transform="translate(448.10,483.80) scale(0.8992,1.0000)" xml:space="preserve">1</text>
<text font-size="31.69" fill="#000" stroke="#000" stroke-width="0.2" vector-effect="non-scaling-stroke" transform="translate(465.73,483.80) scale(1.0706,1.0000)" xml:space="preserve">"</text>
<text font-size="31.69" fill="#000" stroke="#000" stroke-width="0.2" vector-effect="non-scaling-stroke" transform="translate(608.16,483.80) scale(0.9594,1.0000)" xml:space="preserve">Saint</text>
<text font-size="31.69" fill="#000" stroke="#000" stroke-width="0.2" vector-effect="non-scaling-stroke" transform="translate(608.43,483.80) scale(0.9594,1.0000)" xml:space="preserve">Saint</text>
<text font-size="31.69" fill="#000" stroke="#000" stroke-width="0.2" vector-effect="non-scaling-stroke" transform="translate(687.14,483.80) scale(0.9748,1.0000)" xml:space="preserve">Bernard,</text>
<text font-size="31.69" fill="#000" stroke="#000" stroke-width="0.2" vector-effect="non-scaling-stroke" transform="translate(687.36,483.80) scale(0.9748,1.0000)" xml:space="preserve">Bernard,</text>
<text font-size="31.69" fill="#000" stroke="#000" stroke-width="0.2" vector-effect="non-scaling-stroke" transform="translate(813.06,483.80) scale(0.9675,1.0000)" xml:space="preserve">Bull</text>
<text font-size="31.69" fill="#000" stroke="#000" stroke-width="0.2" vector-effect="non-scaling-stroke" transform="translate(813.30,483.80) scale(0.9675,1.0000)" xml:space="preserve">Bull</text>
<text font-size="31.69" fill="#000" stroke="#000" stroke-width="0.2" vector-effect="non-scaling-stroke" transform="translate(872.55,483.80) scale(1.0861,1.0000)" xml:space="preserve">Mastiff,</text>
<text font-size="31.69" fill="#000" stroke="#000" stroke-width="0.2" vector-effect="non-scaling-stroke" transform="translate(990.37,483.80) scale(1.0254,1.0000)" xml:space="preserve">Wolfhound</text>
<text font-size="31.69" fill="#000" stroke="#000" stroke-width="0.2" vector-effect="non-scaling-stroke" transform="translate(990.45,483.80) scale(1.0254,1.0000)" xml:space="preserve">Wolfhound</text>
<text font-size="31.69" fill="#000" stroke="#000" stroke-width="0.2" vector-effect="non-scaling-stroke" transform="translate(96.39,571.80) scale(1.1456,1.0000)" xml:space="preserve">M</text>
<text font-size="31.69" fill="#000" stroke="#000" stroke-width="0.2" vector-effect="non-scaling-stroke" transform="translate(128.21,571.80) scale(0.5677,1.0000)" xml:space="preserve">E</text>
<text font-size="31.69" fill="#000" stroke="#000" stroke-width="0.2" vector-effect="non-scaling-stroke" transform="translate(129.59,571.80) scale(0.5677,1.0000)" xml:space="preserve">E</text>
<text font-size="31.69" fill="#000" stroke="#000" stroke-width="0.2" vector-effect="non-scaling-stroke" transform="translate(143.36,571.80) scale(0.8932,1.0000)" xml:space="preserve">D</text>
<text font-size="31.69" fill="#000" stroke="#000" stroke-width="0.2" vector-effect="non-scaling-stroke" transform="translate(143.81,571.80) scale(0.8932,1.0000)" xml:space="preserve">D</text>
<text font-size="31.69" fill="#000" stroke="#000" stroke-width="0.2" vector-effect="non-scaling-stroke" transform="translate(164.43,571.80) scale(0.6500,1.0000)" xml:space="preserve">I</text>
<text font-size="31.69" fill="#000" stroke="#000" stroke-width="0.2" vector-effect="non-scaling-stroke" transform="translate(165.08,571.80) scale(0.6500,1.0000)" xml:space="preserve">I</text>
<text font-size="31.69" fill="#000" stroke="#000" stroke-width="0.2" vector-effect="non-scaling-stroke" transform="translate(171.32,571.80) scale(0.9119,1.0000)" xml:space="preserve">U</text>
<text font-size="31.69" fill="#000" stroke="#000" stroke-width="0.2" vector-effect="non-scaling-stroke" transform="translate(171.72,571.80) scale(0.9119,1.0000)" xml:space="preserve">U</text>
<text font-size="31.69" fill="#000" stroke="#000" stroke-width="0.2" vector-effect="non-scaling-stroke" transform="translate(192.18,571.80) scale(1.1503,1.0000)" xml:space="preserve">M</text>
<text font-size="31.69" fill="#000" stroke="#000" stroke-width="0.2" vector-effect="non-scaling-stroke" transform="translate(321.46,571.80) scale(0.8992,1.0000)" xml:space="preserve">1</text>
<text font-size="31.69" fill="#000" stroke="#000" stroke-width="0.2" vector-effect="non-scaling-stroke" transform="translate(321.90,571.80) scale(0.8992,1.0000)" xml:space="preserve">1</text>
<text font-size="31.69" fill="#000" stroke="#000" stroke-width="0.2" vector-effect="non-scaling-stroke" transform="translate(339.20,571.80) scale(0.9354,1.0000)" xml:space="preserve">4</text>
<text font-size="31.69" fill="#000" stroke="#000" stroke-width="0.2" vector-effect="non-scaling-stroke" transform="translate(339.53,571.80) scale(0.9354,1.0000)" xml:space="preserve">4</text>
<text font-size="31.69" fill="#000" stroke="#000" stroke-width="0.2" vector-effect="non-scaling-stroke" transform="translate(357.74,571.80) scale(1.0588,1.0000)" xml:space="preserve">"</text>
<text font-size="31.69" fill="#000" stroke="#000" stroke-width="0.2" vector-effect="non-scaling-stroke" transform="translate(378.44,571.80) scale(0.8786,1.0000)" xml:space="preserve">T</text>
<text font-size="31.69" fill="#000" stroke="#000" stroke-width="0.2" vector-effect="non-scaling-stroke" transform="translate(378.94,571.80) scale(0.8786,1.0000)" xml:space="preserve">T</text>
<text font-size="31.69" fill="#000" stroke="#000" stroke-width="0.2" vector-effect="non-scaling-stroke" transform="translate(395.30,571.80) scale(0.8683,1.0000)" xml:space="preserve">O</text>
<text font-size="31.69" fill="#000" stroke="#000" stroke-width="0.2" vector-effect="non-scaling-stroke" transform="translate(395.82,571.80) scale(0.8683,1.0000)" xml:space="preserve">O</text>
<text font-size="31.69" fill="#000" stroke="#000" stroke-width="0.2" vector-effect="non-scaling-stroke" transform="translate(425.69,571.80) scale(0.8900,1.0000)" xml:space="preserve">1</text>
<text font-size="31.69" fill="#000" stroke="#000" stroke-width="0.2" vector-effect="non-scaling-stroke" transform="translate(426.15,571.80) scale(0.8900,1.0000)" xml:space="preserve">1</text>
<text font-size="31.69" fill="#000" stroke="#000" stroke-width="0.2" vector-effect="non-scaling-stroke" transform="translate(442.83,571.80) scale(0.9979,1.0000)" xml:space="preserve">8</text>
<text font-size="31.69" fill="#000" stroke="#000" stroke-width="0.2" vector-effect="non-scaling-stroke" transform="translate(442.98,571.80) scale(0.9979,1.0000)" xml:space="preserve">8</text>
<text font-size="31.69" fill="#000" stroke="#000" stroke-width="0.2" vector-effect="non-scaling-stroke" transform="translate(461.60,571.80) scale(1.0941,1.0000)" xml:space="preserve">"</text>
<text font-size="31.69" fill="#000" stroke="#000" stroke-width="0.2" vector-effect="non-scaling-stroke" transform="translate(629.27,571.80) scale(0.9274,1.0000)" xml:space="preserve">Boxer</text>
<text font-size="31.69" fill="#000" stroke="#000" stroke-width="0.2" vector-effect="non-scaling-stroke" transform="translate(629.62,571.80) scale(0.9274,1.0000)" xml:space="preserve">Boxer</text>
<text font-size="31.69" fill="#000" stroke="#000" stroke-width="0.2" vector-effect="non-scaling-stroke" transform="translate(714.33,571.80) scale(1.0178,1.0000)" xml:space="preserve">Dalmation,</text>
<text font-size="31.69" fill="#000" stroke="#000" stroke-width="0.2" vector-effect="non-scaling-stroke" transform="translate(714.43,571.80) scale(1.0178,1.0000)" xml:space="preserve">Dalmation,</text>
<text font-size="31.69" fill="#000" stroke="#000" stroke-width="0.2" vector-effect="non-scaling-stroke" transform="translate(874.76,571.80) scale(0.9646,1.0000)" xml:space="preserve">Vizsla,</text>
<text font-size="31.69" fill="#000" stroke="#000" stroke-width="0.2" vector-effect="non-scaling-stroke" transform="translate(875.01,571.80) scale(0.9646,1.0000)" xml:space="preserve">Vizsla,</text>
<text font-size="31.69" fill="#000" stroke="#000" stroke-width="0.2" vector-effect="non-scaling-stroke" transform="translate(971.35,571.80) scale(0.9697,1.0000)" xml:space="preserve">Bull</text>
<text font-size="31.69" fill="#000" stroke="#000" stroke-width="0.2" vector-effect="non-scaling-stroke" transform="translate(971.59,571.80) scale(0.9697,1.0000)" xml:space="preserve">Bull</text>
<text font-size="31.69" fill="#000" stroke="#000" stroke-width="0.2" vector-effect="non-scaling-stroke" transform="translate(1030.43,571.80) scale(1.0286,1.0000)" xml:space="preserve">Terrier</text>
<text font-size="31.69" fill="#000" stroke="#000" stroke-width="0.2" vector-effect="non-scaling-stroke" transform="translate(1030.50,571.80) scale(1.0286,1.0000)" xml:space="preserve">Terrier</text>
<text font-size="31.69" fill="#000" stroke="#000" stroke-width="0.2" vector-effect="non-scaling-stroke" transform="translate(115.45,615.80) scale(0.7447,1.0000)" xml:space="preserve">L</text>
<text font-size="31.69" fill="#000" stroke="#000" stroke-width="0.2" vector-effect="non-scaling-stroke" transform="translate(116.32,615.80) scale(0.7447,1.0000)" xml:space="preserve">L</text>
<text font-size="31.69" fill="#000" stroke="#000" stroke-width="0.2" vector-effect="non-scaling-stroke" transform="translate(129.09,615.80) scale(0.8877,1.0000)" xml:space="preserve">A</text>
<text font-size="31.69" fill="#000" stroke="#000" stroke-width="0.2" vector-effect="non-scaling-stroke" transform="translate(129.56,615.80) scale(0.8877,1.0000)" xml:space="preserve">A</text>
<text font-size="31.69" fill="#000" stroke="#000" stroke-width="0.2" vector-effect="non-scaling-stroke" transform="translate(150.18,615.80) scale(0.6920,1.0000)" xml:space="preserve">R</text>
<text font-size="31.69" fill="#000" stroke="#000" stroke-width="0.2" vector-effect="non-scaling-stroke" transform="translate(151.21,615.80) scale(0.6920,1.0000)" xml:space="preserve">R</text>
<text font-size="31.69" fill="#000" stroke="#000" stroke-width="0.2" vector-effect="non-scaling-stroke" transform="translate(166.85,615.80) scale(0.8327,1.0000)" xml:space="preserve">G</text>
<text font-size="31.69" fill="#000" stroke="#000" stroke-width="0.2" vector-effect="non-scaling-stroke" transform="translate(167.47,615.80) scale(0.8327,1.0000)" xml:space="preserve">G</text>
<text font-size="31.69" fill="#000" stroke="#000" stroke-width="0.2" vector-effect="non-scaling-stroke" transform="translate(190.64,615.80) scale(0.5957,1.0000)" xml:space="preserve">E</text>
<text font-size="31.69" fill="#000" stroke="#000" stroke-width="0.2" vector-effect="non-scaling-stroke" transform="translate(191.93,615.80) scale(0.5957,1.0000)" xml:space="preserve">E</text>
<text font-size="31.69" fill="#000" stroke="#000" stroke-width="0.2" vector-effect="non-scaling-stroke" transform="translate(321.46,615.80) scale(0.8992,1.0000)" xml:space="preserve">1</text>
<text font-size="31.69" fill="#000" stroke="#000" stroke-width="0.2" vector-effect="non-scaling-stroke" transform="translate(321.90,615.80) scale(0.8992,1.0000)" xml:space="preserve">1</text>
<text font-size="31.69" fill="#000" stroke="#000" stroke-width="0.2" vector-effect="non-scaling-stroke" transform="translate(338.74,615.80) scale(0.9896,1.0000)" xml:space="preserve">8</text>
<text font-size="31.69" fill="#000" stroke="#000" stroke-width="0.2" vector-effect="non-scaling-stroke" transform="translate(338.92,615.80) scale(0.9896,1.0000)" xml:space="preserve">8</text>
<text font-size="31.69" fill="#000" stroke="#000" stroke-width="0.2" vector-effect="non-scaling-stroke" transform="translate(357.74,615.80) scale(1.0588,1.0000)" xml:space="preserve">"</text>
<text font-size="31.69" fill="#000" stroke="#000" stroke-width="0.2" vector-effect="non-scaling-stroke" transform="translate(378.44,615.80) scale(0.8786,1.0000)" xml:space="preserve">T</text>
<text font-size="31.69" fill="#000" stroke="#000" stroke-width="0.2" vector-effect="non-scaling-stroke" transform="translate(378.94,615.80) scale(0.8786,1.0000)" xml:space="preserve">T</text>
<text font-size="31.69" fill="#000" stroke="#000" stroke-width="0.2" vector-effect="non-scaling-stroke" transform="translate(395.30,615.80) scale(0.8683,1.0000)" xml:space="preserve">O</text>
<text font-size="31.69" fill="#000" stroke="#000" stroke-width="0.2" vector-effect="non-scaling-stroke" transform="translate(395.82,615.80) scale(0.8683,1.0000)" xml:space="preserve">O</text>
<text font-size="31.69" fill="#000" stroke="#000" stroke-width="0.2" vector-effect="non-scaling-stroke" transform="translate(425.36,615.80) scale(0.9458,1.0000)" xml:space="preserve">2</text>
<text font-size="31.69" fill="#000" stroke="#000" stroke-width="0.2" vector-effect="non-scaling-stroke" transform="translate(425.67,615.80) scale(0.9458,1.0000)" xml:space="preserve">2</text>
<text font-size="31.69" fill="#000" stroke="#000" stroke-width="0.2" vector-effect="non-scaling-stroke" transform="translate(443.33,615.80) scale(0.9383,1.0000)" xml:space="preserve">5</text>
<text font-size="31.69" fill="#000" stroke="#000" stroke-width="0.2" vector-effect="non-scaling-stroke" transform="translate(443.65,615.80) scale(0.9383,1.0000)" xml:space="preserve">5</text>
<text font-size="31.69" fill="#000" stroke="#000" stroke-width="0.2" vector-effect="non-scaling-stroke" transform="translate(461.60,615.80) scale(1.0941,1.0000)" xml:space="preserve">"</text>
<text font-size="31.69" fill="#000" stroke="#000" stroke-width="0.2" vector-effect="non-scaling-stroke" transform="translate(558.23,615.80) scale(0.9787,1.0000)" xml:space="preserve">Labrador</text>
<text font-size="31.69" fill="#000" stroke="#000" stroke-width="0.2" vector-effect="non-scaling-stroke" transform="translate(558.44,615.80) scale(0.9787,1.0000)" xml:space="preserve">Labrador</text>
<text font-size="31.69" fill="#000" stroke="#000" stroke-width="0.2" vector-effect="non-scaling-stroke" transform="translate(691.23,615.80) scale(0.9804,1.0000)" xml:space="preserve">Rerreiver,</text>
<text font-size="31.69" fill="#000" stroke="#000" stroke-width="0.2" vector-effect="non-scaling-stroke" transform="translate(691.43,615.80) scale(0.9804,1.0000)" xml:space="preserve">Rerreiver,</text>
<text font-size="31.69" fill="#000" stroke="#000" stroke-width="0.2" vector-effect="non-scaling-stroke" transform="translate(832.81,615.80) scale(0.9778,1.0000)" xml:space="preserve">German</text>
<text font-size="31.69" fill="#000" stroke="#000" stroke-width="0.2" vector-effect="non-scaling-stroke" transform="translate(833.02,615.80) scale(0.9778,1.0000)" xml:space="preserve">German</text>
<text font-size="31.69" fill="#000" stroke="#000" stroke-width="0.2" vector-effect="non-scaling-stroke" transform="translate(952.65,615.80) scale(0.9667,1.0000)" xml:space="preserve">Shepherd,</text>
<text font-size="31.69" fill="#000" stroke="#000" stroke-width="0.2" vector-effect="non-scaling-stroke" transform="translate(952.89,615.80) scale(0.9667,1.0000)" xml:space="preserve">Shepherd,</text>
<text font-size="31.69" fill="#000" stroke="#000" stroke-width="0.2" vector-effect="non-scaling-stroke" transform="translate(1101.18,615.80) scale(0.9585,1.0000)" xml:space="preserve">Husky</text>
<text font-size="31.69" fill="#000" stroke="#000" stroke-width="0.2" vector-effect="non-scaling-stroke" transform="translate(1101.45,615.80) scale(0.9585,1.0000)" xml:space="preserve">Husky</text>
<text font-size="31.69" fill="#000" stroke="#000" stroke-width="0.2" vector-effect="non-scaling-stroke" transform="translate(101.01,659.80) scale(0.7930,1.0000)" xml:space="preserve">X</text>
<text font-size="31.69" fill="#000" stroke="#000" stroke-width="0.2" vector-effect="non-scaling-stroke" transform="translate(101.74,659.80) scale(0.7930,1.0000)" xml:space="preserve">X</text>
<text font-size="31.69" fill="#000" stroke="#000" stroke-width="0.2" vector-effect="non-scaling-stroke" transform="translate(127.55,659.80) scale(0.7447,1.0000)" xml:space="preserve">L</text>
<text font-size="31.69" fill="#000" stroke="#000" stroke-width="0.2" vector-effect="non-scaling-stroke" transform="translate(128.42,659.80) scale(0.7447,1.0000)" xml:space="preserve">L</text>
<text font-size="31.69" fill="#000" stroke="#000" stroke-width="0.2" vector-effect="non-scaling-stroke" transform="translate(141.19,659.80) scale(0.8877,1.0000)" xml:space="preserve">A</text>
<text font-size="31.69" fill="#000" stroke="#000" stroke-width="0.2" vector-effect="non-scaling-stroke" transform="translate(141.66,659.80) scale(0.8877,1.0000)" xml:space="preserve">A</text>
<text font-size="31.69" fill="#000" stroke="#000" stroke-width="0.2" vector-effect="non-scaling-stroke" transform="translate(162.28,659.80) scale(0.6920,1.0000)" xml:space="preserve">R</text>
<text font-size="31.69" fill="#000" stroke="#000" stroke-width="0.2" vector-effect="non-scaling-stroke" transform="translate(163.31,659.80) scale(0.6920,1.0000)" xml:space="preserve">R</text>
<text font-size="31.69" fill="#000" stroke="#000" stroke-width="0.2" vector-effect="non-scaling-stroke" transform="translate(178.95,659.80) scale(0.8327,1.0000)" xml:space="preserve">G</text>
<text font-size="31.69" fill="#000" stroke="#000" stroke-width="0.2" vector-effect="non-scaling-stroke" transform="translate(179.57,659.80) scale(0.8327,1.0000)" xml:space="preserve">G</text>
<text font-size="31.69" fill="#000" stroke="#000" stroke-width="0.2" vector-effect="non-scaling-stroke" transform="translate(202.74,659.80) scale(0.5957,1.0000)" xml:space="preserve">E</text>
<text font-size="31.69" fill="#000" stroke="#000" stroke-width="0.2" vector-effect="non-scaling-stroke" transform="translate(204.03,659.80) scale(0.5957,1.0000)" xml:space="preserve">E</text>
<text font-size="31.69" fill="#000" stroke="#000" stroke-width="0.2" vector-effect="non-scaling-stroke" transform="translate(325.03,659.80) scale(0.9631,1.0000)" xml:space="preserve">2</text>
<text font-size="31.69" fill="#000" stroke="#000" stroke-width="0.2" vector-effect="non-scaling-stroke" transform="translate(325.29,659.80) scale(0.9631,1.0000)" xml:space="preserve">2</text>
<text font-size="31.69" fill="#000" stroke="#000" stroke-width="0.2" vector-effect="non-scaling-stroke" transform="translate(342.83,659.80) scale(1.0183,1.0000)" xml:space="preserve">0</text>
<text font-size="31.69" fill="#000" stroke="#000" stroke-width="0.2" vector-effect="non-scaling-stroke" transform="translate(342.93,659.80) scale(1.0183,1.0000)" xml:space="preserve">0</text>
<text font-size="31.69" fill="#000" stroke="#000" stroke-width="0.2" vector-effect="non-scaling-stroke" transform="translate(361.89,659.80) scale(1.0250,1.0000)" xml:space="preserve">"</text>
<text font-size="31.69" fill="#000" stroke="#000" stroke-width="0.2" vector-effect="non-scaling-stroke" transform="translate(361.98,659.80) scale(1.0250,1.0000)" xml:space="preserve">"</text>
<text font-size="31.69" fill="#000" stroke="#000" stroke-width="0.2" vector-effect="non-scaling-stroke" transform="translate(382.44,659.80) scale(0.8853,1.0000)" xml:space="preserve">T</text>
<text font-size="31.69" fill="#000" stroke="#000" stroke-width="0.2" vector-effect="non-scaling-stroke" transform="translate(382.91,659.80) scale(0.8853,1.0000)" xml:space="preserve">T</text>
<text font-size="31.69" fill="#000" stroke="#000" stroke-width="0.2" vector-effect="non-scaling-stroke" transform="translate(398.95,659.80) scale(0.9002,1.0000)" xml:space="preserve">O</text>
<text font-size="31.69" fill="#000" stroke="#000" stroke-width="0.2" vector-effect="non-scaling-stroke" transform="translate(399.38,659.80) scale(0.9002,1.0000)" xml:space="preserve">O</text>
<text font-size="31.69" fill="#000" stroke="#000" stroke-width="0.2" vector-effect="non-scaling-stroke" transform="translate(429.39,659.80) scale(0.8890,1.0000)" xml:space="preserve">3</text>
<text font-size="31.69" fill="#000" stroke="#000" stroke-width="0.2" vector-effect="non-scaling-stroke" transform="translate(429.85,659.80) scale(0.8890,1.0000)" xml:space="preserve">3</text>
<text font-size="31.69" fill="#000" stroke="#000" stroke-width="0.2" vector-effect="non-scaling-stroke" transform="translate(447.66,659.80) scale(0.8992,1.0000)" xml:space="preserve">1</text>
<text font-size="31.69" fill="#000" stroke="#000" stroke-width="0.2" vector-effect="non-scaling-stroke" transform="translate(448.10,659.80) scale(0.8992,1.0000)" xml:space="preserve">1</text>
<text font-size="31.69" fill="#000" stroke="#000" stroke-width="0.2" vector-effect="non-scaling-stroke" transform="translate(465.73,659.80) scale(1.0706,1.0000)" xml:space="preserve">"</text>
<text font-size="31.69" fill="#000" stroke="#000" stroke-width="0.2" vector-effect="non-scaling-stroke" transform="translate(608.16,659.80) scale(0.9594,1.0000)" xml:space="preserve">Saint</text>
<text font-size="31.69" fill="#000" stroke="#000" stroke-width="0.2" vector-effect="non-scaling-stroke" transform="translate(608.43,659.80) scale(0.9594,1.0000)" xml:space="preserve">Saint</text>
<text font-size="31.69" fill="#000" stroke="#000" stroke-width="0.2" vector-effect="non-scaling-stroke" transform="translate(687.14,659.80) scale(0.9748,1.0000)" xml:space="preserve">Bernard,</text>
<text font-size="31.69" fill="#000" stroke="#000" stroke-width="0.2" vector-effect="non-scaling-stroke" transform="translate(687.36,659.80) scale(0.9748,1.0000)" xml:space="preserve">Bernard,</text>
<text font-size="31.69" fill="#000" stroke="#000" stroke-width="0.2" vector-effect="non-scaling-stroke" transform="translate(813.06,659.80) scale(0.9675,1.0000)" xml:space="preserve">Bull</text>
<text font-size="31.69" fill="#000" stroke="#000" stroke-width="0.2" vector-effect="non-scaling-stroke" transform="translate(813.30,659.80) scale(0.9675,1.0000)" xml:space="preserve">Bull</text>
<text font-size="31.69" fill="#000" stroke="#000" stroke-width="0.2" vector-effect="non-scaling-stroke" transform="translate(872.55,659.80) scale(1.0861,1.0000)" xml:space="preserve">Mastiff,</text>
<text font-size="31.69" fill="#000" stroke="#000" stroke-width="0.2" vector-effect="non-scaling-stroke" transform="translate(990.37,659.80) scale(1.0254,1.0000)" xml:space="preserve">Wolfhound</text>
<text font-size="31.69" fill="#000" stroke="#000" stroke-width="0.2" vector-effect="non-scaling-stroke" transform="translate(990.45,659.80) scale(1.0254,1.0000)" xml:space="preserve">Wolfhound</text>
<text font-size="24.06" font-weight="bold" fill="#000" stroke="#000" stroke-width="0.1" vector-effect="non-scaling-stroke" transform="translate(243.58,307.70) scale(0.6566,1.0000)" xml:space="preserve">L</text>
<text font-size="24.06" font-weight="bold" fill="#000" stroke="#000" stroke-width="0.1" vector-effect="non-scaling-stroke" transform="translate(244.86,307.70) scale(0.6566,1.0000)" xml:space="preserve">L</text>
<text font-size="24.06" font-weight="bold" fill="#000" stroke="#000" stroke-width="0.1" vector-effect="non-scaling-stroke" transform="translate(253.76,307.70) scale(0.6083,1.0000)" xml:space="preserve">E</text>
<text font-size="24.06" font-weight="bold" fill="#000" stroke="#000" stroke-width="0.1" vector-effect="non-scaling-stroke" transform="translate(255.20,307.70) scale(0.6083,1.0000)" xml:space="preserve">E</text>
<text font-size="24.06" font-weight="bold" fill="#000" stroke="#000" stroke-width="0.1" vector-effect="non-scaling-stroke" transform="translate(264.46,307.70) scale(0.9407,1.0000)" xml:space="preserve">A</text>
<text font-size="24.06" font-weight="bold" fill="#000" stroke="#000" stroke-width="0.1" vector-effect="non-scaling-stroke" transform="translate(264.79,307.70) scale(0.9407,1.0000)" xml:space="preserve">A</text>
<text font-size="24.06" font-weight="bold" fill="#000" stroke="#000" stroke-width="0.1" vector-effect="non-scaling-stroke" transform="translate(281.54,307.70) scale(0.9313,1.0000)" xml:space="preserve">D</text>
<text font-size="24.06" font-weight="bold" fill="#000" stroke="#000" stroke-width="0.1" vector-effect="non-scaling-stroke" transform="translate(281.90,307.70) scale(0.9313,1.0000)" xml:space="preserve">D</text>
<text font-size="24.06" font-weight="bold" fill="#000" stroke="#000" stroke-width="0.1" vector-effect="non-scaling-stroke" transform="translate(303.43,307.70) scale(0.6898,1.0000)" xml:space="preserve">L</text>
<text font-size="24.06" font-weight="bold" fill="#000" stroke="#000" stroke-width="0.1" vector-effect="non-scaling-stroke" transform="translate(304.59,307.70) scale(0.6898,1.0000)" xml:space="preserve">L</text>
<text font-size="24.06" font-weight="bold" fill="#000" stroke="#000" stroke-width="0.1" vector-effect="non-scaling-stroke" transform="translate(314.25,307.70) scale(0.6132,1.0000)" xml:space="preserve">E</text>
<text font-size="24.06" font-weight="bold" fill="#000" stroke="#000" stroke-width="0.1" vector-effect="non-scaling-stroke" transform="translate(315.68,307.70) scale(0.6132,1.0000)" xml:space="preserve">E</text>
<text font-size="24.06" font-weight="bold" fill="#000" stroke="#000" stroke-width="0.1" vector-effect="non-scaling-stroke" transform="translate(325.19,307.70) scale(0.9575,1.0000)" xml:space="preserve">N</text>
<text font-size="24.06" font-weight="bold" fill="#000" stroke="#000" stroke-width="0.1" vector-effect="non-scaling-stroke" transform="translate(325.47,307.70) scale(0.9575,1.0000)" xml:space="preserve">N</text>
<text font-size="24.06" font-weight="bold" fill="#000" stroke="#000" stroke-width="0.1" vector-effect="non-scaling-stroke" transform="translate(342.86,307.70) scale(0.8928,1.0000)" xml:space="preserve">G</text>
<text font-size="24.06" font-weight="bold" fill="#000" stroke="#000" stroke-width="0.1" vector-effect="non-scaling-stroke" transform="translate(343.35,307.70) scale(0.8928,1.0000)" xml:space="preserve">G</text>
<text font-size="24.06" font-weight="bold" fill="#000" stroke="#000" stroke-width="0.1" vector-effect="non-scaling-stroke" transform="translate(359.13,307.70) scale(0.8648,1.0000)" xml:space="preserve">T</text>
<text font-size="24.06" font-weight="bold" fill="#000" stroke="#000" stroke-width="0.1" vector-effect="non-scaling-stroke" transform="translate(359.72,307.70) scale(0.8648,1.0000)" xml:space="preserve">T</text>
<text font-size="24.06" font-weight="bold" fill="#000" stroke="#000" stroke-width="0.1" vector-effect="non-scaling-stroke" transform="translate(371.61,307.70) scale(0.9482,1.0000)" xml:space="preserve">H</text>
<text font-size="24.06" font-weight="bold" fill="#000" stroke="#000" stroke-width="0.1" vector-effect="non-scaling-stroke" transform="translate(371.92,307.70) scale(0.9482,1.0000)" xml:space="preserve">H</text>
<text font-size="24.06" font-weight="bold" fill="#000" stroke="#000" stroke-width="0.1" vector-effect="non-scaling-stroke" transform="translate(387.34,307.70) scale(0.6822,1.0000)" xml:space="preserve">S</text>
<text font-size="24.06" font-weight="bold" fill="#000" stroke="#000" stroke-width="0.1" vector-effect="non-scaling-stroke" transform="translate(388.53,307.70) scale(0.6822,1.0000)" xml:space="preserve">S</text>
<text font-size="24.06" font-weight="bold" fill="#000" stroke="#000" stroke-width="0.1" vector-effect="non-scaling-stroke" transform="translate(404.36,307.70) scale(0.9407,1.0000)" xml:space="preserve">A</text>
<text font-size="24.06" font-weight="bold" fill="#000" stroke="#000" stroke-width="0.1" vector-effect="non-scaling-stroke" transform="translate(404.69,307.70) scale(0.9407,1.0000)" xml:space="preserve">A</text>
<text font-size="24.06" font-weight="bold" fill="#000" stroke="#000" stroke-width="0.1" vector-effect="non-scaling-stroke" transform="translate(420.81,307.70) scale(0.9708,1.0000)" xml:space="preserve">V</text>
<text font-size="24.06" font-weight="bold" fill="#000" stroke="#000" stroke-width="0.1" vector-effect="non-scaling-stroke" transform="translate(421.04,307.70) scale(0.9708,1.0000)" xml:space="preserve">V</text>
<text font-size="24.06" font-weight="bold" fill="#000" stroke="#000" stroke-width="0.1" vector-effect="non-scaling-stroke" transform="translate(436.46,307.70) scale(0.9407,1.0000)" xml:space="preserve">A</text>
<text font-size="24.06" font-weight="bold" fill="#000" stroke="#000" stroke-width="0.1" vector-effect="non-scaling-stroke" transform="translate(436.79,307.70) scale(0.9407,1.0000)" xml:space="preserve">A</text>
<text font-size="24.06" font-weight="bold" fill="#000" stroke="#000" stroke-width="0.1" vector-effect="non-scaling-stroke" transform="translate(453.90,307.70) scale(0.7071,1.0000)" xml:space="preserve">I</text>
<text font-size="24.06" font-weight="bold" fill="#000" stroke="#000" stroke-width="0.1" vector-effect="non-scaling-stroke" transform="translate(454.73,307.70) scale(0.7071,1.0000)" xml:space="preserve">I</text>
<text font-size="24.06" font-weight="bold" fill="#000" stroke="#000" stroke-width="0.1" vector-effect="non-scaling-stroke" transform="translate(459.82,307.70) scale(0.6346,1.0000)" xml:space="preserve">L</text>
<text font-size="24.06" font-weight="bold" fill="#000" stroke="#000" stroke-width="0.1" vector-effect="non-scaling-stroke" transform="translate(461.17,307.70) scale(0.6346,1.0000)" xml:space="preserve">L</text>
<text font-size="24.06" font-weight="bold" fill="#000" stroke="#000" stroke-width="0.1" vector-effect="non-scaling-stroke" transform="translate(469.07,307.70) scale(0.9328,1.0000)" xml:space="preserve">A</text>
<text font-size="24.06" font-weight="bold" fill="#000" stroke="#000" stroke-width="0.1" vector-effect="non-scaling-stroke" transform="translate(469.42,307.70) scale(0.9328,1.0000)" xml:space="preserve">A</text>
<text font-size="24.06" font-weight="bold" fill="#000" stroke="#000" stroke-width="0.1" vector-effect="non-scaling-stroke" transform="translate(485.92,307.70) scale(0.7556,1.0000)" xml:space="preserve">B</text>
<text font-size="24.06" font-weight="bold" fill="#000" stroke="#000" stroke-width="0.1" vector-effect="non-scaling-stroke" transform="translate(486.87,307.70) scale(0.7556,1.0000)" xml:space="preserve">B</text>
<text font-size="24.06" font-weight="bold" fill="#000" stroke="#000" stroke-width="0.1" vector-effect="non-scaling-stroke" transform="translate(501.33,307.70) scale(0.5683,1.0000)" xml:space="preserve">L</text>
<text font-size="24.06" font-weight="bold" fill="#000" stroke="#000" stroke-width="0.1" vector-effect="non-scaling-stroke" transform="translate(502.89,307.70) scale(0.5683,1.0000)" xml:space="preserve">L</text>
<text font-size="24.06" font-weight="bold" fill="#000" stroke="#000" stroke-width="0.1" vector-effect="non-scaling-stroke" transform="translate(511.10,307.70) scale(0.5247,1.0000)" xml:space="preserve">E</text>
<text font-size="24.06" font-weight="bold" fill="#000" stroke="#000" stroke-width="0.1" vector-effect="non-scaling-stroke" transform="translate(512.81,307.70) scale(0.5247,1.0000)" xml:space="preserve">E</text>
<text font-size="24.06" font-weight="bold" fill="#000" stroke="#000" stroke-width="0.1" vector-effect="non-scaling-stroke" transform="translate(527.23,307.70) scale(0.8145,1.0000)" xml:space="preserve">I</text>
<text font-size="24.06" font-weight="bold" fill="#000" stroke="#000" stroke-width="0.1" vector-effect="non-scaling-stroke" transform="translate(527.88,307.70) scale(0.8145,1.0000)" xml:space="preserve">I</text>
<text font-size="24.06" font-weight="bold" fill="#000" stroke="#000" stroke-width="0.1" vector-effect="non-scaling-stroke" transform="translate(532.83,307.70) scale(0.9945,1.0000)" xml:space="preserve">N</text>
<text font-size="24.06" font-weight="bold" fill="#000" stroke="#000" stroke-width="0.1" vector-effect="non-scaling-stroke" transform="translate(532.99,307.70) scale(0.9945,1.0000)" xml:space="preserve">N</text>
<text font-size="24.06" font-weight="bold" fill="#000" stroke="#000" stroke-width="0.1" vector-effect="non-scaling-stroke" transform="translate(556.94,307.70) scale(0.8463,1.0000)" xml:space="preserve">T</text>
<text font-size="24.06" font-weight="bold" fill="#000" stroke="#000" stroke-width="0.1" vector-effect="non-scaling-stroke" transform="translate(557.58,307.70) scale(0.8463,1.0000)" xml:space="preserve">T</text>
<text font-size="24.06" font-weight="bold" fill="#000" stroke="#000" stroke-width="0.1" vector-effect="non-scaling-stroke" transform="translate(569.34,307.70) scale(0.9297,1.0000)" xml:space="preserve">H</text>
<text font-size="24.06" font-weight="bold" fill="#000" stroke="#000" stroke-width="0.1" vector-effect="non-scaling-stroke" transform="translate(569.71,307.70) scale(0.9297,1.0000)" xml:space="preserve">H</text>
<text font-size="24.06" font-weight="bold" fill="#000" stroke="#000" stroke-width="0.1" vector-effect="non-scaling-stroke" transform="translate(585.73,307.70) scale(0.8145,1.0000)" xml:space="preserve">I</text>
<text font-size="24.06" font-weight="bold" fill="#000" stroke="#000" stroke-width="0.1" vector-effect="non-scaling-stroke" transform="translate(586.38,307.70) scale(0.8145,1.0000)" xml:space="preserve">I</text>
<text font-size="24.06" font-weight="bold" fill="#000" stroke="#000" stroke-width="0.1" vector-effect="non-scaling-stroke" transform="translate(591.47,307.70) scale(0.6460,1.0000)" xml:space="preserve">S</text>
<text font-size="24.06" font-weight="bold" fill="#000" stroke="#000" stroke-width="0.1" vector-effect="non-scaling-stroke" transform="translate(592.78,307.70) scale(0.6460,1.0000)" xml:space="preserve">S</text>
<text font-size="24.06" font-weight="bold" fill="#000" stroke="#000" stroke-width="0.1" vector-effect="non-scaling-stroke" transform="translate(609.35,307.70) scale(1.0126,1.0000)" xml:space="preserve">W</text>
<text font-size="24.06" font-weight="bold" fill="#000" stroke="#000" stroke-width="0.1" vector-effect="non-scaling-stroke" transform="translate(609.44,307.70) scale(1.0126,1.0000)" xml:space="preserve">W</text>
<text font-size="24.06" font-weight="bold" fill="#000" stroke="#000" stroke-width="0.1" vector-effect="non-scaling-stroke" transform="translate(632.15,307.70) scale(1.1714,1.0000)" xml:space="preserve">I</text>
<text font-size="24.06" font-weight="bold" fill="#000" stroke="#000" stroke-width="0.1" vector-effect="non-scaling-stroke" transform="translate(638.82,307.70) scale(0.9401,1.0000)" xml:space="preserve">D</text>
<text font-size="24.06" font-weight="bold" fill="#000" stroke="#000" stroke-width="0.1" vector-effect="non-scaling-stroke" transform="translate(639.16,307.70) scale(0.9401,1.0000)" xml:space="preserve">D</text>
<text font-size="24.06" font-weight="bold" fill="#000" stroke="#000" stroke-width="0.1" vector-effect="non-scaling-stroke" transform="translate(654.42,307.70) scale(0.9389,1.0000)" xml:space="preserve">T</text>
<text font-size="24.06" font-weight="bold" fill="#000" stroke="#000" stroke-width="0.1" vector-effect="non-scaling-stroke" transform="translate(654.75,307.70) scale(0.9389,1.0000)" xml:space="preserve">T</text>
<text font-size="24.06" font-weight="bold" fill="#000" stroke="#000" stroke-width="0.1" vector-effect="non-scaling-stroke" transform="translate(667.40,307.70) scale(0.8926,1.0000)" xml:space="preserve">H</text>
<text font-size="24.06" font-weight="bold" fill="#000" stroke="#000" stroke-width="0.1" vector-effect="non-scaling-stroke" transform="translate(667.89,307.70) scale(0.8926,1.0000)" xml:space="preserve">H</text>
<text font-size="24.06" font-weight="bold" fill="#000" stroke="#000" stroke-width="0.1" vector-effect="non-scaling-stroke" transform="translate(688.43,307.70) scale(1.1167,1.0000)" xml:space="preserve">-</text>
<text font-size="24.06" font-weight="bold" fill="#000" stroke="#000" stroke-width="0.1" vector-effect="non-scaling-stroke" transform="translate(702.69,307.70) scale(0.9571,1.0000)" xml:space="preserve">4</text>
<text font-size="24.06" font-weight="bold" fill="#000" stroke="#000" stroke-width="0.1" vector-effect="non-scaling-stroke" transform="translate(702.97,307.70) scale(0.9571,1.0000)" xml:space="preserve">4</text>
<text font-size="24.06" font-weight="bold" fill="#000" stroke="#000" stroke-width="0.1" vector-effect="non-scaling-stroke" transform="translate(715.95,307.70) scale(1.0462,1.0000)" xml:space="preserve">"</text>
<text font-size="24.06" font-weight="bold" fill="#000" stroke="#000" stroke-width="0.1" vector-effect="non-scaling-stroke" transform="translate(735.43,307.70) scale(0.6898,1.0000)" xml:space="preserve">L</text>
<text font-size="24.06" font-weight="bold" fill="#000" stroke="#000" stroke-width="0.1" vector-effect="non-scaling-stroke" transform="translate(736.59,307.70) scale(0.6898,1.0000)" xml:space="preserve">L</text>
<text font-size="24.06" font-weight="bold" fill="#000" stroke="#000" stroke-width="0.1" vector-effect="non-scaling-stroke" transform="translate(744.92,307.70) scale(0.9341,1.0000)" xml:space="preserve">O</text>
<text font-size="24.06" font-weight="bold" fill="#000" stroke="#000" stroke-width="0.1" vector-effect="non-scaling-stroke" transform="translate(745.27,307.70) scale(0.9341,1.0000)" xml:space="preserve">O</text>
<text font-size="24.06" font-weight="bold" fill="#000" stroke="#000" stroke-width="0.1" vector-effect="non-scaling-stroke" transform="translate(762.93,307.70) scale(0.9945,1.0000)" xml:space="preserve">N</text>
<text font-size="24.06" font-weight="bold" fill="#000" stroke="#000" stroke-width="0.1" vector-effect="non-scaling-stroke" transform="translate(763.09,307.70) scale(0.9945,1.0000)" xml:space="preserve">N</text>
<text font-size="24.06" font-weight="bold" fill="#000" stroke="#000" stroke-width="0.1" vector-effect="non-scaling-stroke" transform="translate(781.12,307.70) scale(0.8308,1.0000)" xml:space="preserve">G</text>
<text font-size="24.06" font-weight="bold" fill="#000" stroke="#000" stroke-width="0.1" vector-effect="non-scaling-stroke" transform="translate(781.82,307.70) scale(0.8308,1.0000)" xml:space="preserve">G</text>
<text font-size="24.06" font-weight="bold" fill="#000" stroke="#000" stroke-width="0.1" vector-effect="non-scaling-stroke" transform="translate(794.74,307.70) scale(1.4857,1.0000)" xml:space="preserve">,</text>
<text font-size="24.06" font-weight="bold" fill="#000" stroke="#000" stroke-width="0.1" vector-effect="non-scaling-stroke" transform="translate(809.40,307.70) scale(0.8693,1.0000)" xml:space="preserve">5</text>
<text font-size="24.06" font-weight="bold" fill="#000" stroke="#000" stroke-width="0.1" vector-effect="non-scaling-stroke" transform="translate(809.97,307.70) scale(0.8693,1.0000)" xml:space="preserve">5</text>
<text font-size="24.06" font-weight="bold" fill="#000" stroke="#000" stroke-width="0.1" vector-effect="non-scaling-stroke" transform="translate(822.81,307.70) scale(1.0073,1.0000)" xml:space="preserve">"</text>
<text font-size="24.06" font-weight="bold" fill="#000" stroke="#000" stroke-width="0.1" vector-effect="non-scaling-stroke" transform="translate(822.93,307.70) scale(1.0073,1.0000)" xml:space="preserve">"</text>
<text font-size="24.06" font-weight="bold" fill="#000" stroke="#000" stroke-width="0.1" vector-effect="non-scaling-stroke" transform="translate(840.73,307.70) scale(0.6898,1.0000)" xml:space="preserve">L</text>
<text font-size="24.06" font-weight="bold" fill="#000" stroke="#000" stroke-width="0.1" vector-effect="non-scaling-stroke" transform="translate(841.89,307.70) scale(0.6898,1.0000)" xml:space="preserve">L</text>
<text font-size="24.06" font-weight="bold" fill="#000" stroke="#000" stroke-width="0.1" vector-effect="non-scaling-stroke" transform="translate(850.22,307.70) scale(0.9341,1.0000)" xml:space="preserve">O</text>
<text font-size="24.06" font-weight="bold" fill="#000" stroke="#000" stroke-width="0.1" vector-effect="non-scaling-stroke" transform="translate(850.57,307.70) scale(0.9341,1.0000)" xml:space="preserve">O</text>
<text font-size="24.06" font-weight="bold" fill="#000" stroke="#000" stroke-width="0.1" vector-effect="non-scaling-stroke" transform="translate(868.23,307.70) scale(0.9945,1.0000)" xml:space="preserve">N</text>
<text font-size="24.06" font-weight="bold" fill="#000" stroke="#000" stroke-width="0.1" vector-effect="non-scaling-stroke" transform="translate(868.39,307.70) scale(0.9945,1.0000)" xml:space="preserve">N</text>
<text font-size="24.06" font-weight="bold" fill="#000" stroke="#000" stroke-width="0.1" vector-effect="non-scaling-stroke" transform="translate(886.42,307.70) scale(0.8308,1.0000)" xml:space="preserve">G</text>
<text font-size="24.06" font-weight="bold" fill="#000" stroke="#000" stroke-width="0.1" vector-effect="non-scaling-stroke" transform="translate(887.12,307.70) scale(0.8308,1.0000)" xml:space="preserve">G</text>
<text font-size="24.06" font-weight="bold" fill="#000" stroke="#000" stroke-width="0.1" vector-effect="non-scaling-stroke" transform="translate(900.04,307.70) scale(1.4857,1.0000)" xml:space="preserve">,</text>
<text font-size="24.06" font-weight="bold" fill="#000" stroke="#000" stroke-width="0.1" vector-effect="non-scaling-stroke" transform="translate(914.77,307.70) scale(1.0752,1.0000)" xml:space="preserve">&amp;</text>
<text font-size="24.06" font-weight="bold" fill="#000" stroke="#000" stroke-width="0.1" vector-effect="non-scaling-stroke" transform="translate(938.61,307.70) scale(1.0753,1.0000)" xml:space="preserve">6</text>
<text font-size="24.06" font-weight="bold" fill="#000" stroke="#000" stroke-width="0.1" vector-effect="non-scaling-stroke" transform="translate(952.58,307.70) scale(1.0277,1.0000)" xml:space="preserve">"</text>
<text font-size="24.06" font-weight="bold" fill="#000" stroke="#000" stroke-width="0.1" vector-effect="non-scaling-stroke" transform="translate(952.63,307.70) scale(1.0277,1.0000)" xml:space="preserve">"</text>
<text font-size="24.06" font-weight="bold" fill="#000" stroke="#000" stroke-width="0.1" vector-effect="non-scaling-stroke" transform="translate(971.43,307.70) scale(0.6898,1.0000)" xml:space="preserve">L</text>
<text font-size="24.06" font-weight="bold" fill="#000" stroke="#000" stroke-width="0.1" vector-effect="non-scaling-stroke" transform="translate(972.59,307.70) scale(0.6898,1.0000)" xml:space="preserve">L</text>
<text font-size="24.06" font-weight="bold" fill="#000" stroke="#000" stroke-width="0.1" vector-effect="non-scaling-stroke" transform="translate(980.92,307.70) scale(0.9341,1.0000)" xml:space="preserve">O</text>
<text font-size="24.06" font-weight="bold" fill="#000" stroke="#000" stroke-width="0.1" vector-effect="non-scaling-stroke" transform="translate(981.27,307.70) scale(0.9341,1.0000)" xml:space="preserve">O</text>
<text font-size="24.06" font-weight="bold" fill="#000" stroke="#000" stroke-width="0.1" vector-effect="non-scaling-stroke" transform="translate(998.93,307.70) scale(0.9945,1.0000)" xml:space="preserve">N</text>
<text font-size="24.06" font-weight="bold" fill="#000" stroke="#000" stroke-width="0.1" vector-effect="non-scaling-stroke" transform="translate(999.09,307.70) scale(0.9945,1.0000)" xml:space="preserve">N</text>
<text font-size="24.06" font-weight="bold" fill="#000" stroke="#000" stroke-width="0.1" vector-effect="non-scaling-stroke" transform="translate(1017.12,307.70) scale(0.8308,1.0000)" xml:space="preserve">G</text>
<text font-size="24.06" font-weight="bold" fill="#000" stroke="#000" stroke-width="0.1" vector-effect="non-scaling-stroke" transform="translate(1017.82,307.70) scale(0.8308,1.0000)" xml:space="preserve">G</text>
<text font-size="24.06" font-weight="bold" fill="#000" stroke="#000" stroke-width="0.1" vector-effect="non-scaling-stroke" transform="translate(241.58,527.70) scale(0.6566,1.0000)" xml:space="preserve">L</text>
<text font-size="24.06" font-weight="bold" fill="#000" stroke="#000" stroke-width="0.1" vector-effect="non-scaling-stroke" transform="translate(242.86,527.70) scale(0.6566,1.0000)" xml:space="preserve">L</text>
<text font-size="24.06" font-weight="bold" fill="#000" stroke="#000" stroke-width="0.1" vector-effect="non-scaling-stroke" transform="translate(251.76,527.70) scale(0.6083,1.0000)" xml:space="preserve">E</text>
<text font-size="24.06" font-weight="bold" fill="#000" stroke="#000" stroke-width="0.1" vector-effect="non-scaling-stroke" transform="translate(253.20,527.70) scale(0.6083,1.0000)" xml:space="preserve">E</text>
<text font-size="24.06" font-weight="bold" fill="#000" stroke="#000" stroke-width="0.1" vector-effect="non-scaling-stroke" transform="translate(262.46,527.70) scale(0.9407,1.0000)" xml:space="preserve">A</text>
<text font-size="24.06" font-weight="bold" fill="#000" stroke="#000" stroke-width="0.1" vector-effect="non-scaling-stroke" transform="translate(262.79,527.70) scale(0.9407,1.0000)" xml:space="preserve">A</text>
<text font-size="24.06" font-weight="bold" fill="#000" stroke="#000" stroke-width="0.1" vector-effect="non-scaling-stroke" transform="translate(279.54,527.70) scale(0.9313,1.0000)" xml:space="preserve">D</text>
<text font-size="24.06" font-weight="bold" fill="#000" stroke="#000" stroke-width="0.1" vector-effect="non-scaling-stroke" transform="translate(279.90,527.70) scale(0.9313,1.0000)" xml:space="preserve">D</text>
<text font-size="24.06" font-weight="bold" fill="#000" stroke="#000" stroke-width="0.1" vector-effect="non-scaling-stroke" transform="translate(301.43,527.70) scale(0.6898,1.0000)" xml:space="preserve">L</text>
<text font-size="24.06" font-weight="bold" fill="#000" stroke="#000" stroke-width="0.1" vector-effect="non-scaling-stroke" transform="translate(302.59,527.70) scale(0.6898,1.0000)" xml:space="preserve">L</text>
<text font-size="24.06" font-weight="bold" fill="#000" stroke="#000" stroke-width="0.1" vector-effect="non-scaling-stroke" transform="translate(312.25,527.70) scale(0.6132,1.0000)" xml:space="preserve">E</text>
<text font-size="24.06" font-weight="bold" fill="#000" stroke="#000" stroke-width="0.1" vector-effect="non-scaling-stroke" transform="translate(313.68,527.70) scale(0.6132,1.0000)" xml:space="preserve">E</text>
<text font-size="24.06" font-weight="bold" fill="#000" stroke="#000" stroke-width="0.1" vector-effect="non-scaling-stroke" transform="translate(323.19,527.70) scale(0.9575,1.0000)" xml:space="preserve">N</text>
<text font-size="24.06" font-weight="bold" fill="#000" stroke="#000" stroke-width="0.1" vector-effect="non-scaling-stroke" transform="translate(323.47,527.70) scale(0.9575,1.0000)" xml:space="preserve">N</text>
<text font-size="24.06" font-weight="bold" fill="#000" stroke="#000" stroke-width="0.1" vector-effect="non-scaling-stroke" transform="translate(340.86,527.70) scale(0.8928,1.0000)" xml:space="preserve">G</text>
<text font-size="24.06" font-weight="bold" fill="#000" stroke="#000" stroke-width="0.1" vector-effect="non-scaling-stroke" transform="translate(341.35,527.70) scale(0.8928,1.0000)" xml:space="preserve">G</text>
<text font-size="24.06" font-weight="bold" fill="#000" stroke="#000" stroke-width="0.1" vector-effect="non-scaling-stroke" transform="translate(357.13,527.70) scale(0.8648,1.0000)" xml:space="preserve">T</text>
<text font-size="24.06" font-weight="bold" fill="#000" stroke="#000" stroke-width="0.1" vector-effect="non-scaling-stroke" transform="translate(357.72,527.70) scale(0.8648,1.0000)" xml:space="preserve">T</text>
<text font-size="24.06" font-weight="bold" fill="#000" stroke="#000" stroke-width="0.1" vector-effect="non-scaling-stroke" transform="translate(369.61,527.70) scale(0.9482,1.0000)" xml:space="preserve">H</text>
<text font-size="24.06" font-weight="bold" fill="#000" stroke="#000" stroke-width="0.1" vector-effect="non-scaling-stroke" transform="translate(369.92,527.70) scale(0.9482,1.0000)" xml:space="preserve">H</text>
<text font-size="24.06" font-weight="bold" fill="#000" stroke="#000" stroke-width="0.1" vector-effect="non-scaling-stroke" transform="translate(385.34,527.70) scale(0.6822,1.0000)" xml:space="preserve">S</text>
<text font-size="24.06" font-weight="bold" fill="#000" stroke="#000" stroke-width="0.1" vector-effect="non-scaling-stroke" transform="translate(386.53,527.70) scale(0.6822,1.0000)" xml:space="preserve">S</text>
<text font-size="24.06" font-weight="bold" fill="#000" stroke="#000" stroke-width="0.1" vector-effect="non-scaling-stroke" transform="translate(402.36,527.70) scale(0.9407,1.0000)" xml:space="preserve">A</text>
<text font-size="24.06" font-weight="bold" fill="#000" stroke="#000" stroke-width="0.1" vector-effect="non-scaling-stroke" transform="translate(402.69,527.70) scale(0.9407,1.0000)" xml:space="preserve">A</text>
<text font-size="24.06" font-weight="bold" fill="#000" stroke="#000" stroke-width="0.1" vector-effect="non-scaling-stroke" transform="translate(418.81,527.70) scale(0.9708,1.0000)" xml:space="preserve">V</text>
<text font-size="24.06" font-weight="bold" fill="#000" stroke="#000" stroke-width="0.1" vector-effect="non-scaling-stroke" transform="translate(419.04,527.70) scale(0.9708,1.0000)" xml:space="preserve">V</text>
<text font-size="24.06" font-weight="bold" fill="#000" stroke="#000" stroke-width="0.1" vector-effect="non-scaling-stroke" transform="translate(434.46,527.70) scale(0.9407,1.0000)" xml:space="preserve">A</text>
<text font-size="24.06" font-weight="bold" fill="#000" stroke="#000" stroke-width="0.1" vector-effect="non-scaling-stroke" transform="translate(434.79,527.70) scale(0.9407,1.0000)" xml:space="preserve">A</text>
<text font-size="24.06" font-weight="bold" fill="#000" stroke="#000" stroke-width="0.1" vector-effect="non-scaling-stroke" transform="translate(451.90,527.70) scale(0.7071,1.0000)" xml:space="preserve">I</text>
<text font-size="24.06" font-weight="bold" fill="#000" stroke="#000" stroke-width="0.1" vector-effect="non-scaling-stroke" transform="translate(452.73,527.70) scale(0.7071,1.0000)" xml:space="preserve">I</text>
<text font-size="24.06" font-weight="bold" fill="#000" stroke="#000" stroke-width="0.1" vector-effect="non-scaling-stroke" transform="translate(457.82,527.70) scale(0.6346,1.0000)" xml:space="preserve">L</text>
<text font-size="24.06" font-weight="bold" fill="#000" stroke="#000" stroke-width="0.1" vector-effect="non-scaling-stroke" transform="translate(459.17,527.70) scale(0.6346,1.0000)" xml:space="preserve">L</text>
<text font-size="24.06" font-weight="bold" fill="#000" stroke="#000" stroke-width="0.1" vector-effect="non-scaling-stroke" transform="translate(467.07,527.70) scale(0.9328,1.0000)" xml:space="preserve">A</text>
<text font-size="24.06" font-weight="bold" fill="#000" stroke="#000" stroke-width="0.1" vector-effect="non-scaling-stroke" transform="translate(467.42,527.70) scale(0.9328,1.0000)" xml:space="preserve">A</text>
<text font-size="24.06" font-weight="bold" fill="#000" stroke="#000" stroke-width="0.1" vector-effect="non-scaling-stroke" transform="translate(483.92,527.70) scale(0.7556,1.0000)" xml:space="preserve">B</text>
<text font-size="24.06" font-weight="bold" fill="#000" stroke="#000" stroke-width="0.1" vector-effect="non-scaling-stroke" transform="translate(484.87,527.70) scale(0.7556,1.0000)" xml:space="preserve">B</text>
<text font-size="24.06" font-weight="bold" fill="#000" stroke="#000" stroke-width="0.1" vector-effect="non-scaling-stroke" transform="translate(499.33,527.70) scale(0.5683,1.0000)" xml:space="preserve">L</text>
<text font-size="24.06" font-weight="bold" fill="#000" stroke="#000" stroke-width="0.1" vector-effect="non-scaling-stroke" transform="translate(500.89,527.70) scale(0.5683,1.0000)" xml:space="preserve">L</text>
<text font-size="24.06" font-weight="bold" fill="#000" stroke="#000" stroke-width="0.1" vector-effect="non-scaling-stroke" transform="translate(509.10,527.70) scale(0.5247,1.0000)" xml:space="preserve">E</text>
<text font-size="24.06" font-weight="bold" fill="#000" stroke="#000" stroke-width="0.1" vector-effect="non-scaling-stroke" transform="translate(510.81,527.70) scale(0.5247,1.0000)" xml:space="preserve">E</text>
<text font-size="24.06" font-weight="bold" fill="#000" stroke="#000" stroke-width="0.1" vector-effect="non-scaling-stroke" transform="translate(525.23,527.70) scale(0.8145,1.0000)" xml:space="preserve">I</text>
<text font-size="24.06" font-weight="bold" fill="#000" stroke="#000" stroke-width="0.1" vector-effect="non-scaling-stroke" transform="translate(525.88,527.70) scale(0.8145,1.0000)" xml:space="preserve">I</text>
<text font-size="24.06" font-weight="bold" fill="#000" stroke="#000" stroke-width="0.1" vector-effect="non-scaling-stroke" transform="translate(530.83,527.70) scale(0.9945,1.0000)" xml:space="preserve">N</text>
<text font-size="24.06" font-weight="bold" fill="#000" stroke="#000" stroke-width="0.1" vector-effect="non-scaling-stroke" transform="translate(530.99,527.70) scale(0.9945,1.0000)" xml:space="preserve">N</text>
<text font-size="24.06" font-weight="bold" fill="#000" stroke="#000" stroke-width="0.1" vector-effect="non-scaling-stroke" transform="translate(554.94,527.70) scale(0.8463,1.0000)" xml:space="preserve">T</text>
<text font-size="24.06" font-weight="bold" fill="#000" stroke="#000" stroke-width="0.1" vector-effect="non-scaling-stroke" transform="translate(555.58,527.70) scale(0.8463,1.0000)" xml:space="preserve">T</text>
<text font-size="24.06" font-weight="bold" fill="#000" stroke="#000" stroke-width="0.1" vector-effect="non-scaling-stroke" transform="translate(567.34,527.70) scale(0.9297,1.0000)" xml:space="preserve">H</text>
<text font-size="24.06" font-weight="bold" fill="#000" stroke="#000" stroke-width="0.1" vector-effect="non-scaling-stroke" transform="translate(567.71,527.70) scale(0.9297,1.0000)" xml:space="preserve">H</text>
<text font-size="24.06" font-weight="bold" fill="#000" stroke="#000" stroke-width="0.1" vector-effect="non-scaling-stroke" transform="translate(583.73,527.70) scale(0.8145,1.0000)" xml:space="preserve">I</text>
<text font-size="24.06" font-weight="bold" fill="#000" stroke="#000" stroke-width="0.1" vector-effect="non-scaling-stroke" transform="translate(584.38,527.70) scale(0.8145,1.0000)" xml:space="preserve">I</text>
<text font-size="24.06" font-weight="bold" fill="#000" stroke="#000" stroke-width="0.1" vector-effect="non-scaling-stroke" transform="translate(589.47,527.70) scale(0.6460,1.0000)" xml:space="preserve">S</text>
<text font-size="24.06" font-weight="bold" fill="#000" stroke="#000" stroke-width="0.1" vector-effect="non-scaling-stroke" transform="translate(590.78,527.70) scale(0.6460,1.0000)" xml:space="preserve">S</text>
<text font-size="24.06" font-weight="bold" fill="#000" stroke="#000" stroke-width="0.1" vector-effect="non-scaling-stroke" transform="translate(607.35,527.70) scale(1.0126,1.0000)" xml:space="preserve">W</text>
<text font-size="24.06" font-weight="bold" fill="#000" stroke="#000" stroke-width="0.1" vector-effect="non-scaling-stroke" transform="translate(607.44,527.70) scale(1.0126,1.0000)" xml:space="preserve">W</text>
<text font-size="24.06" font-weight="bold" fill="#000" stroke="#000" stroke-width="0.1" vector-effect="non-scaling-stroke" transform="translate(630.15,527.70) scale(1.1714,1.0000)" xml:space="preserve">I</text>
<text font-size="24.06" font-weight="bold" fill="#000" stroke="#000" stroke-width="0.1" vector-effect="non-scaling-stroke" transform="translate(636.82,527.70) scale(0.9401,1.0000)" xml:space="preserve">D</text>
<text font-size="24.06" font-weight="bold" fill="#000" stroke="#000" stroke-width="0.1" vector-effect="non-scaling-stroke" transform="translate(637.16,527.70) scale(0.9401,1.0000)" xml:space="preserve">D</text>
<text font-size="24.06" font-weight="bold" fill="#000" stroke="#000" stroke-width="0.1" vector-effect="non-scaling-stroke" transform="translate(652.42,527.70) scale(0.9389,1.0000)" xml:space="preserve">T</text>
<text font-size="24.06" font-weight="bold" fill="#000" stroke="#000" stroke-width="0.1" vector-effect="non-scaling-stroke" transform="translate(652.75,527.70) scale(0.9389,1.0000)" xml:space="preserve">T</text>
<text font-size="24.06" font-weight="bold" fill="#000" stroke="#000" stroke-width="0.1" vector-effect="non-scaling-stroke" transform="translate(665.40,527.70) scale(0.8926,1.0000)" xml:space="preserve">H</text>
<text font-size="24.06" font-weight="bold" fill="#000" stroke="#000" stroke-width="0.1" vector-effect="non-scaling-stroke" transform="translate(665.89,527.70) scale(0.8926,1.0000)" xml:space="preserve">H</text>
<text font-size="24.06" font-weight="bold" fill="#000" stroke="#000" stroke-width="0.1" vector-effect="non-scaling-stroke" transform="translate(692.63,527.70) scale(1.1167,1.0000)" xml:space="preserve">-</text>
<text font-size="24.06" font-weight="bold" fill="#000" stroke="#000" stroke-width="0.1" vector-effect="non-scaling-stroke" transform="translate(706.89,527.70) scale(0.9571,1.0000)" xml:space="preserve">4</text>
<text font-size="24.06" font-weight="bold" fill="#000" stroke="#000" stroke-width="0.1" vector-effect="non-scaling-stroke" transform="translate(707.17,527.70) scale(0.9571,1.0000)" xml:space="preserve">4</text>
<text font-size="24.06" font-weight="bold" fill="#000" stroke="#000" stroke-width="0.1" vector-effect="non-scaling-stroke" transform="translate(720.15,527.70) scale(1.0462,1.0000)" xml:space="preserve">"</text>
<text font-size="24.06" font-weight="bold" fill="#000" stroke="#000" stroke-width="0.1" vector-effect="non-scaling-stroke" transform="translate(739.63,527.70) scale(0.6898,1.0000)" xml:space="preserve">L</text>
<text font-size="24.06" font-weight="bold" fill="#000" stroke="#000" stroke-width="0.1" vector-effect="non-scaling-stroke" transform="translate(740.79,527.70) scale(0.6898,1.0000)" xml:space="preserve">L</text>
<text font-size="24.06" font-weight="bold" fill="#000" stroke="#000" stroke-width="0.1" vector-effect="non-scaling-stroke" transform="translate(749.12,527.70) scale(0.9341,1.0000)" xml:space="preserve">O</text>
<text font-size="24.06" font-weight="bold" fill="#000" stroke="#000" stroke-width="0.1" vector-effect="non-scaling-stroke" transform="translate(749.47,527.70) scale(0.9341,1.0000)" xml:space="preserve">O</text>
<text font-size="24.06" font-weight="bold" fill="#000" stroke="#000" stroke-width="0.1" vector-effect="non-scaling-stroke" transform="translate(767.13,527.70) scale(0.9945,1.0000)" xml:space="preserve">N</text>
<text font-size="24.06" font-weight="bold" fill="#000" stroke="#000" stroke-width="0.1" vector-effect="non-scaling-stroke" transform="translate(767.29,527.70) scale(0.9945,1.0000)" xml:space="preserve">N</text>
<text font-size="24.06" font-weight="bold" fill="#000" stroke="#000" stroke-width="0.1" vector-effect="non-scaling-stroke" transform="translate(785.32,527.70) scale(0.8308,1.0000)" xml:space="preserve">G</text>
<text font-size="24.06" font-weight="bold" fill="#000" stroke="#000" stroke-width="0.1" vector-effect="non-scaling-stroke" transform="translate(786.02,527.70) scale(0.8308,1.0000)" xml:space="preserve">G</text>
<text font-size="24.06" font-weight="bold" fill="#000" stroke="#000" stroke-width="0.1" vector-effect="non-scaling-stroke" transform="translate(798.94,527.70) scale(1.4857,1.0000)" xml:space="preserve">,</text>
<text font-size="24.06" font-weight="bold" fill="#000" stroke="#000" stroke-width="0.1" vector-effect="non-scaling-stroke" transform="translate(813.60,527.70) scale(0.8693,1.0000)" xml:space="preserve">5</text>
<text font-size="24.06" font-weight="bold" fill="#000" stroke="#000" stroke-width="0.1" vector-effect="non-scaling-stroke" transform="translate(814.17,527.70) scale(0.8693,1.0000)" xml:space="preserve">5</text>
<text font-size="24.06" font-weight="bold" fill="#000" stroke="#000" stroke-width="0.1" vector-effect="non-scaling-stroke" transform="translate(827.01,527.70) scale(1.0073,1.0000)" xml:space="preserve">"</text>
<text font-size="24.06" font-weight="bold" fill="#000" stroke="#000" stroke-width="0.1" vector-effect="non-scaling-stroke" transform="translate(827.13,527.70) scale(1.0073,1.0000)" xml:space="preserve">"</text>
<text font-size="24.06" font-weight="bold" fill="#000" stroke="#000" stroke-width="0.1" vector-effect="non-scaling-stroke" transform="translate(844.93,527.70) scale(0.6898,1.0000)" xml:space="preserve">L</text>
<text font-size="24.06" font-weight="bold" fill="#000" stroke="#000" stroke-width="0.1" vector-effect="non-scaling-stroke" transform="translate(846.09,527.70) scale(0.6898,1.0000)" xml:space="preserve">L</text>
<text font-size="24.06" font-weight="bold" fill="#000" stroke="#000" stroke-width="0.1" vector-effect="non-scaling-stroke" transform="translate(854.42,527.70) scale(0.9341,1.0000)" xml:space="preserve">O</text>
<text font-size="24.06" font-weight="bold" fill="#000" stroke="#000" stroke-width="0.1" vector-effect="non-scaling-stroke" transform="translate(854.77,527.70) scale(0.9341,1.0000)" xml:space="preserve">O</text>
<text font-size="24.06" font-weight="bold" fill="#000" stroke="#000" stroke-width="0.1" vector-effect="non-scaling-stroke" transform="translate(872.43,527.70) scale(0.9945,1.0000)" xml:space="preserve">N</text>
<text font-size="24.06" font-weight="bold" fill="#000" stroke="#000" stroke-width="0.1" vector-effect="non-scaling-stroke" transform="translate(872.59,527.70) scale(0.9945,1.0000)" xml:space="preserve">N</text>
<text font-size="24.06" font-weight="bold" fill="#000" stroke="#000" stroke-width="0.1" vector-effect="non-scaling-stroke" transform="translate(890.62,527.70) scale(0.8308,1.0000)" xml:space="preserve">G</text>
<text font-size="24.06" font-weight="bold" fill="#000" stroke="#000" stroke-width="0.1" vector-effect="non-scaling-stroke" transform="translate(891.32,527.70) scale(0.8308,1.0000)" xml:space="preserve">G</text>
<text font-size="24.06" font-weight="bold" fill="#000" stroke="#000" stroke-width="0.1" vector-effect="non-scaling-stroke" transform="translate(904.24,527.70) scale(1.4857,1.0000)" xml:space="preserve">,</text>
<text font-size="24.06" font-weight="bold" fill="#000" stroke="#000" stroke-width="0.1" vector-effect="non-scaling-stroke" transform="translate(918.97,527.70) scale(1.0752,1.0000)" xml:space="preserve">&amp;</text>
<text font-size="24.06" font-weight="bold" fill="#000" stroke="#000" stroke-width="0.1" vector-effect="non-scaling-stroke" transform="translate(942.81,527.70) scale(1.0753,1.0000)" xml:space="preserve">6</text>
<text font-size="24.06" font-weight="bold" fill="#000" stroke="#000" stroke-width="0.1" vector-effect="non-scaling-stroke" transform="translate(956.78,527.70) scale(1.0277,1.0000)" xml:space="preserve">"</text>
<text font-size="24.06" font-weight="bold" fill="#000" stroke="#000" stroke-width="0.1" vector-effect="non-scaling-stroke" transform="translate(956.83,527.70) scale(1.0277,1.0000)" xml:space="preserve">"</text>
<text font-size="24.06" font-weight="bold" fill="#000" stroke="#000" stroke-width="0.1" vector-effect="non-scaling-stroke" transform="translate(975.63,527.70) scale(0.6898,1.0000)" xml:space="preserve">L</text>
<text font-size="24.06" font-weight="bold" fill="#000" stroke="#000" stroke-width="0.1" vector-effect="non-scaling-stroke" transform="translate(976.79,527.70) scale(0.6898,1.0000)" xml:space="preserve">L</text>
<text font-size="24.06" font-weight="bold" fill="#000" stroke="#000" stroke-width="0.1" vector-effect="non-scaling-stroke" transform="translate(985.12,527.70) scale(0.9341,1.0000)" xml:space="preserve">O</text>
<text font-size="24.06" font-weight="bold" fill="#000" stroke="#000" stroke-width="0.1" vector-effect="non-scaling-stroke" transform="translate(985.47,527.70) scale(0.9341,1.0000)" xml:space="preserve">O</text>
<text font-size="24.06" font-weight="bold" fill="#000" stroke="#000" stroke-width="0.1" vector-effect="non-scaling-stroke" transform="translate(1003.13,527.70) scale(0.9945,1.0000)" xml:space="preserve">N</text>
<text font-size="24.06" font-weight="bold" fill="#000" stroke="#000" stroke-width="0.1" vector-effect="non-scaling-stroke" transform="translate(1003.29,527.70) scale(0.9945,1.0000)" xml:space="preserve">N</text>
<text font-size="24.06" font-weight="bold" fill="#000" stroke="#000" stroke-width="0.1" vector-effect="non-scaling-stroke" transform="translate(1021.32,527.70) scale(0.8308,1.0000)" xml:space="preserve">G</text>
<text font-size="24.06" font-weight="bold" fill="#000" stroke="#000" stroke-width="0.1" vector-effect="non-scaling-stroke" transform="translate(1022.02,527.70) scale(0.8308,1.0000)" xml:space="preserve">G</text>
<text font-size="24.20" font-weight="bold" fill="#000" stroke="#000" stroke-width="0.1" vector-effect="non-scaling-stroke" transform="translate(415.38,703.75) scale(0.6581,1.0000)" xml:space="preserve">L</text>
<text font-size="24.20" font-weight="bold" fill="#000" stroke="#000" stroke-width="0.1" vector-effect="non-scaling-stroke" transform="translate(416.64,703.75) scale(0.6581,1.0000)" xml:space="preserve">L</text>
<text font-size="24.20" font-weight="bold" fill="#000" stroke="#000" stroke-width="0.1" vector-effect="non-scaling-stroke" transform="translate(425.57,703.75) scale(0.6021,1.0000)" xml:space="preserve">E</text>
<text font-size="24.20" font-weight="bold" fill="#000" stroke="#000" stroke-width="0.1" vector-effect="non-scaling-stroke" transform="translate(427.02,703.75) scale(0.6021,1.0000)" xml:space="preserve">E</text>
<text font-size="24.20" font-weight="bold" fill="#000" stroke="#000" stroke-width="0.1" vector-effect="non-scaling-stroke" transform="translate(436.27,703.75) scale(0.9330,1.0000)" xml:space="preserve">A</text>
<text font-size="24.20" font-weight="bold" fill="#000" stroke="#000" stroke-width="0.1" vector-effect="non-scaling-stroke" transform="translate(436.61,703.75) scale(0.9330,1.0000)" xml:space="preserve">A</text>
<text font-size="24.20" font-weight="bold" fill="#000" stroke="#000" stroke-width="0.1" vector-effect="non-scaling-stroke" transform="translate(453.79,703.75) scale(0.9576,1.0000)" xml:space="preserve">D</text>
<text font-size="24.20" font-weight="bold" fill="#000" stroke="#000" stroke-width="0.1" vector-effect="non-scaling-stroke" transform="translate(454.05,703.75) scale(0.9576,1.0000)" xml:space="preserve">D</text>
<text font-size="24.20" font-weight="bold" fill="#000" stroke="#000" stroke-width="0.1" vector-effect="non-scaling-stroke" transform="translate(469.87,703.75) scale(0.6399,1.0000)" xml:space="preserve">S</text>
<text font-size="24.20" font-weight="bold" fill="#000" stroke="#000" stroke-width="0.1" vector-effect="non-scaling-stroke" transform="translate(471.19,703.75) scale(0.6399,1.0000)" xml:space="preserve">S</text>
<text font-size="24.20" font-weight="bold" fill="#000" stroke="#000" stroke-width="0.1" vector-effect="non-scaling-stroke" transform="translate(486.87,703.75) scale(0.9253,1.0000)" xml:space="preserve">A</text>
<text font-size="24.20" font-weight="bold" fill="#000" stroke="#000" stroke-width="0.1" vector-effect="non-scaling-stroke" transform="translate(487.24,703.75) scale(0.9253,1.0000)" xml:space="preserve">A</text>
<text font-size="24.20" font-weight="bold" fill="#000" stroke="#000" stroke-width="0.1" vector-effect="non-scaling-stroke" transform="translate(504.43,703.75) scale(0.6264,1.0000)" xml:space="preserve">R</text>
<text font-size="24.20" font-weight="bold" fill="#000" stroke="#000" stroke-width="0.1" vector-effect="non-scaling-stroke" transform="translate(505.80,703.75) scale(0.6264,1.0000)" xml:space="preserve">R</text>
<text font-size="24.20" font-weight="bold" fill="#000" stroke="#000" stroke-width="0.1" vector-effect="non-scaling-stroke" transform="translate(518.08,703.75) scale(0.5972,1.0000)" xml:space="preserve">E</text>
<text font-size="24.20" font-weight="bold" fill="#000" stroke="#000" stroke-width="0.1" vector-effect="non-scaling-stroke" transform="translate(519.54,703.75) scale(0.5972,1.0000)" xml:space="preserve">E</text>
<text font-size="24.20" font-weight="bold" fill="#000" stroke="#000" stroke-width="0.1" vector-effect="non-scaling-stroke" transform="translate(534.66,703.75) scale(0.9758,1.0000)" xml:space="preserve">N</text>
<text font-size="24.20" font-weight="bold" fill="#000" stroke="#000" stroke-width="0.1" vector-effect="non-scaling-stroke" transform="translate(534.86,703.75) scale(0.9758,1.0000)" xml:space="preserve">N</text>
<text font-size="24.20" font-weight="bold" fill="#000" stroke="#000" stroke-width="0.1" vector-effect="non-scaling-stroke" transform="translate(553.14,703.75) scale(0.9056,1.0000)" xml:space="preserve">O</text>
<text font-size="24.20" font-weight="bold" fill="#000" stroke="#000" stroke-width="0.1" vector-effect="non-scaling-stroke" transform="translate(553.58,703.75) scale(0.9056,1.0000)" xml:space="preserve">O</text>
<text font-size="24.20" font-weight="bold" fill="#000" stroke="#000" stroke-width="0.1" vector-effect="non-scaling-stroke" transform="translate(570.84,703.75) scale(0.8473,1.0000)" xml:space="preserve">T</text>
<text font-size="24.20" font-weight="bold" fill="#000" stroke="#000" stroke-width="0.1" vector-effect="non-scaling-stroke" transform="translate(571.46,703.75) scale(0.8473,1.0000)" xml:space="preserve">T</text>
<text font-size="24.20" font-weight="bold" fill="#000" stroke="#000" stroke-width="0.1" vector-effect="non-scaling-stroke" transform="translate(589.07,703.75) scale(0.9330,1.0000)" xml:space="preserve">A</text>
<text font-size="24.20" font-weight="bold" fill="#000" stroke="#000" stroke-width="0.1" vector-effect="non-scaling-stroke" transform="translate(589.41,703.75) scale(0.9330,1.0000)" xml:space="preserve">A</text>
<text font-size="24.20" font-weight="bold" fill="#000" stroke="#000" stroke-width="0.1" vector-effect="non-scaling-stroke" transform="translate(605.51,703.75) scale(0.9626,1.0000)" xml:space="preserve">V</text>
<text font-size="24.20" font-weight="bold" fill="#000" stroke="#000" stroke-width="0.1" vector-effect="non-scaling-stroke" transform="translate(605.75,703.75) scale(0.9626,1.0000)" xml:space="preserve">V</text>
<text font-size="24.20" font-weight="bold" fill="#000" stroke="#000" stroke-width="0.1" vector-effect="non-scaling-stroke" transform="translate(621.17,703.75) scale(0.9330,1.0000)" xml:space="preserve">A</text>
<text font-size="24.20" font-weight="bold" fill="#000" stroke="#000" stroke-width="0.1" vector-effect="non-scaling-stroke" transform="translate(621.51,703.75) scale(0.9330,1.0000)" xml:space="preserve">A</text>
<text font-size="24.20" font-weight="bold" fill="#000" stroke="#000" stroke-width="0.1" vector-effect="non-scaling-stroke" transform="translate(638.60,703.75) scale(0.7071,1.0000)" xml:space="preserve">I</text>
<text font-size="24.20" font-weight="bold" fill="#000" stroke="#000" stroke-width="0.1" vector-effect="non-scaling-stroke" transform="translate(639.43,703.75) scale(0.7071,1.0000)" xml:space="preserve">I</text>
<text font-size="24.20" font-weight="bold" fill="#000" stroke="#000" stroke-width="0.1" vector-effect="non-scaling-stroke" transform="translate(644.52,703.75) scale(0.6360,1.0000)" xml:space="preserve">L</text>
<text font-size="24.20" font-weight="bold" fill="#000" stroke="#000" stroke-width="0.1" vector-effect="non-scaling-stroke" transform="translate(645.85,703.75) scale(0.6360,1.0000)" xml:space="preserve">L</text>
<text font-size="24.20" font-weight="bold" fill="#000" stroke="#000" stroke-width="0.1" vector-effect="non-scaling-stroke" transform="translate(653.77,703.75) scale(0.9253,1.0000)" xml:space="preserve">A</text>
<text font-size="24.20" font-weight="bold" fill="#000" stroke="#000" stroke-width="0.1" vector-effect="non-scaling-stroke" transform="translate(654.14,703.75) scale(0.9253,1.0000)" xml:space="preserve">A</text>
<text font-size="24.20" font-weight="bold" fill="#000" stroke="#000" stroke-width="0.1" vector-effect="non-scaling-stroke" transform="translate(670.63,703.75) scale(0.7487,1.0000)" xml:space="preserve">B</text>
<text font-size="24.20" font-weight="bold" fill="#000" stroke="#000" stroke-width="0.1" vector-effect="non-scaling-stroke" transform="translate(671.59,703.75) scale(0.7487,1.0000)" xml:space="preserve">B</text>
<text font-size="24.20" font-weight="bold" fill="#000" stroke="#000" stroke-width="0.1" vector-effect="non-scaling-stroke" transform="translate(686.02,703.75) scale(0.5696,1.0000)" xml:space="preserve">L</text>
<text font-size="24.20" font-weight="bold" fill="#000" stroke="#000" stroke-width="0.1" vector-effect="non-scaling-stroke" transform="translate(687.58,703.75) scale(0.5696,1.0000)" xml:space="preserve">L</text>
<text font-size="24.20" font-weight="bold" fill="#000" stroke="#000" stroke-width="0.1" vector-effect="non-scaling-stroke" transform="translate(695.81,703.75) scale(0.5194,1.0000)" xml:space="preserve">E</text>
<text font-size="24.20" font-weight="bold" fill="#000" stroke="#000" stroke-width="0.1" vector-effect="non-scaling-stroke" transform="translate(697.53,703.75) scale(0.5194,1.0000)" xml:space="preserve">E</text>
<text font-size="24.20" font-weight="bold" fill="#000" stroke="#000" stroke-width="0.1" vector-effect="non-scaling-stroke" transform="translate(711.40,703.75) scale(0.8294,1.0000)" xml:space="preserve">I</text>
<text font-size="24.20" font-weight="bold" fill="#000" stroke="#000" stroke-width="0.1" vector-effect="non-scaling-stroke" transform="translate(712.00,703.75) scale(0.8294,1.0000)" xml:space="preserve">I</text>
<text font-size="24.20" font-weight="bold" fill="#000" stroke="#000" stroke-width="0.1" vector-effect="non-scaling-stroke" transform="translate(717.05,703.75) scale(0.9850,1.0000)" xml:space="preserve">N</text>
<text font-size="24.20" font-weight="bold" fill="#000" stroke="#000" stroke-width="0.1" vector-effect="non-scaling-stroke" transform="translate(717.21,703.75) scale(0.9850,1.0000)" xml:space="preserve">N</text>
<text font-size="24.20" font-weight="bold" fill="#000" stroke="#000" stroke-width="0.1" vector-effect="non-scaling-stroke" transform="translate(740.74,703.75) scale(0.8381,1.0000)" xml:space="preserve">T</text>
<text font-size="24.20" font-weight="bold" fill="#000" stroke="#000" stroke-width="0.1" vector-effect="non-scaling-stroke" transform="translate(741.40,703.75) scale(0.8381,1.0000)" xml:space="preserve">T</text>
<text font-size="24.20" font-weight="bold" fill="#000" stroke="#000" stroke-width="0.1" vector-effect="non-scaling-stroke" transform="translate(753.15,703.75) scale(0.9207,1.0000)" xml:space="preserve">H</text>
<text font-size="24.20" font-weight="bold" fill="#000" stroke="#000" stroke-width="0.1" vector-effect="non-scaling-stroke" transform="translate(753.53,703.75) scale(0.9207,1.0000)" xml:space="preserve">H</text>
<text font-size="24.20" font-weight="bold" fill="#000" stroke="#000" stroke-width="0.1" vector-effect="non-scaling-stroke" transform="translate(769.50,703.75) scale(0.8294,1.0000)" xml:space="preserve">I</text>
<text font-size="24.20" font-weight="bold" fill="#000" stroke="#000" stroke-width="0.1" vector-effect="non-scaling-stroke" transform="translate(770.10,703.75) scale(0.8294,1.0000)" xml:space="preserve">I</text>
<text font-size="24.20" font-weight="bold" fill="#000" stroke="#000" stroke-width="0.1" vector-effect="non-scaling-stroke" transform="translate(775.27,703.75) scale(0.6399,1.0000)" xml:space="preserve">S</text>
<text font-size="24.20" font-weight="bold" fill="#000" stroke="#000" stroke-width="0.1" vector-effect="non-scaling-stroke" transform="translate(776.59,703.75) scale(0.6399,1.0000)" xml:space="preserve">S</text>
<text font-size="24.20" font-weight="bold" fill="#000" stroke="#000" stroke-width="0.1" vector-effect="non-scaling-stroke" transform="translate(793.65,703.75) scale(1.0071,1.0000)" xml:space="preserve">W</text>
<text font-size="24.20" font-weight="bold" fill="#000" stroke="#000" stroke-width="0.1" vector-effect="non-scaling-stroke" transform="translate(793.74,703.75) scale(1.0071,1.0000)" xml:space="preserve">W</text>
<text font-size="24.20" font-weight="bold" fill="#000" stroke="#000" stroke-width="0.1" vector-effect="non-scaling-stroke" transform="translate(816.45,703.75) scale(1.1714,1.0000)" xml:space="preserve">I</text>
<text font-size="24.20" font-weight="bold" fill="#000" stroke="#000" stroke-width="0.1" vector-effect="non-scaling-stroke" transform="translate(823.14,703.75) scale(0.9315,1.0000)" xml:space="preserve">D</text>
<text font-size="24.20" font-weight="bold" fill="#000" stroke="#000" stroke-width="0.1" vector-effect="non-scaling-stroke" transform="translate(823.48,703.75) scale(0.9315,1.0000)" xml:space="preserve">D</text>
<text font-size="24.20" font-weight="bold" fill="#000" stroke="#000" stroke-width="0.1" vector-effect="non-scaling-stroke" transform="translate(838.72,703.75) scale(0.9299,1.0000)" xml:space="preserve">T</text>
<text font-size="24.20" font-weight="bold" fill="#000" stroke="#000" stroke-width="0.1" vector-effect="non-scaling-stroke" transform="translate(839.07,703.75) scale(0.9299,1.0000)" xml:space="preserve">T</text>
<text font-size="24.20" font-weight="bold" fill="#000" stroke="#000" stroke-width="0.1" vector-effect="non-scaling-stroke" transform="translate(851.71,703.75) scale(0.8840,1.0000)" xml:space="preserve">H</text>
<text font-size="24.20" font-weight="bold" fill="#000" stroke="#000" stroke-width="0.1" vector-effect="non-scaling-stroke" transform="translate(852.22,703.75) scale(0.8840,1.0000)" xml:space="preserve">H</text>
<text font-size="31.47" fill="#25272b" stroke="#25272b" stroke-width="0.1" vector-effect="non-scaling-stroke" transform="translate(42.55,767.75) scale(1.0639,1.0000)" xml:space="preserve">To</text>
<text font-size="31.47" fill="#25272b" stroke="#25272b" stroke-width="0.1" vector-effect="non-scaling-stroke" transform="translate(42.74,767.75) scale(1.0639,1.0000)" xml:space="preserve">To</text>
<text font-size="31.47" fill="#25272b" stroke="#25272b" stroke-width="0.1" vector-effect="non-scaling-stroke" transform="translate(84.99,767.75) scale(0.9167,1.0000)" xml:space="preserve">determine</text>
<text font-size="31.47" fill="#25272b" stroke="#25272b" stroke-width="0.1" vector-effect="non-scaling-stroke" transform="translate(85.59,767.75) scale(0.9167,1.0000)" xml:space="preserve">determine</text>
<text font-size="31.47" fill="#25272b" stroke="#25272b" stroke-width="0.1" vector-effect="non-scaling-stroke" transform="translate(221.19,767.75) scale(0.9144,1.0000)" xml:space="preserve">the</text>
<text font-size="31.47" fill="#25272b" stroke="#25272b" stroke-width="0.1" vector-effect="non-scaling-stroke" transform="translate(221.80,767.75) scale(0.9144,1.0000)" xml:space="preserve">the</text>
<text font-size="31.47" fill="#25272b" stroke="#25272b" stroke-width="0.1" vector-effect="non-scaling-stroke" transform="translate(269.10,767.75) scale(0.9245,1.0000)" xml:space="preserve">proper</text>
<text font-size="31.47" fill="#25272b" stroke="#25272b" stroke-width="0.1" vector-effect="non-scaling-stroke" transform="translate(269.68,767.75) scale(0.9245,1.0000)" xml:space="preserve">proper</text>
<text font-size="31.47" fill="#25272b" stroke="#25272b" stroke-width="0.1" vector-effect="non-scaling-stroke" transform="translate(360.76,767.75) scale(0.9387,1.0000)" xml:space="preserve">collar</text>
<text font-size="31.47" fill="#25272b" stroke="#25272b" stroke-width="0.1" vector-effect="non-scaling-stroke" transform="translate(361.30,767.75) scale(0.9387,1.0000)" xml:space="preserve">collar</text>
<text font-size="31.47" fill="#25272b" stroke="#25272b" stroke-width="0.1" vector-effect="non-scaling-stroke" transform="translate(439.21,767.75) scale(0.9559,1.0000)" xml:space="preserve">size,</text>
<text font-size="31.47" fill="#25272b" stroke="#25272b" stroke-width="0.1" vector-effect="non-scaling-stroke" transform="translate(439.71,767.75) scale(0.9559,1.0000)" xml:space="preserve">size,</text>
<text font-size="31.47" fill="#25272b" stroke="#25272b" stroke-width="0.1" vector-effect="non-scaling-stroke" transform="translate(509.07,767.75) scale(0.9333,1.0000)" xml:space="preserve">measure</text>
<text font-size="31.47" fill="#25272b" stroke="#25272b" stroke-width="0.1" vector-effect="non-scaling-stroke" transform="translate(509.62,767.75) scale(0.9333,1.0000)" xml:space="preserve">measure</text>
<text font-size="31.47" fill="#25272b" stroke="#25272b" stroke-width="0.1" vector-effect="non-scaling-stroke" transform="translate(630.89,767.75) scale(0.9195,1.0000)" xml:space="preserve">the</text>
<text font-size="31.47" fill="#25272b" stroke="#25272b" stroke-width="0.1" vector-effect="non-scaling-stroke" transform="translate(631.49,767.75) scale(0.9195,1.0000)" xml:space="preserve">the</text>
<text font-size="31.47" fill="#25272b" stroke="#25272b" stroke-width="0.1" vector-effect="non-scaling-stroke" transform="translate(678.85,767.75) scale(0.9446,1.0000)" xml:space="preserve">circumference</text>
<text font-size="31.47" fill="#25272b" stroke="#25272b" stroke-width="0.1" vector-effect="non-scaling-stroke" transform="translate(679.38,767.75) scale(0.9446,1.0000)" xml:space="preserve">circumference</text>
<text font-size="31.47" fill="#25272b" stroke="#25272b" stroke-width="0.1" vector-effect="non-scaling-stroke" transform="translate(872.65,767.75) scale(0.9482,1.0000)" xml:space="preserve">of</text>
<text font-size="31.47" fill="#25272b" stroke="#25272b" stroke-width="0.1" vector-effect="non-scaling-stroke" transform="translate(873.16,767.75) scale(0.9482,1.0000)" xml:space="preserve">of</text>
<text font-size="31.47" fill="#25272b" stroke="#25272b" stroke-width="0.1" vector-effect="non-scaling-stroke" transform="translate(904.81,767.75) scale(0.9196,1.0000)" xml:space="preserve">pet’s</text>
<text font-size="31.47" fill="#25272b" stroke="#25272b" stroke-width="0.1" vector-effect="non-scaling-stroke" transform="translate(905.41,767.75) scale(0.9196,1.0000)" xml:space="preserve">pet’s</text>
<text font-size="31.47" fill="#25272b" stroke="#25272b" stroke-width="0.1" vector-effect="non-scaling-stroke" transform="translate(974.75,767.75) scale(0.9392,1.0000)" xml:space="preserve">neck</text>
<text font-size="31.47" fill="#25272b" stroke="#25272b" stroke-width="0.1" vector-effect="non-scaling-stroke" transform="translate(975.29,767.75) scale(0.9392,1.0000)" xml:space="preserve">neck</text>
<text font-size="31.47" fill="#25272b" stroke="#25272b" stroke-width="0.1" vector-effect="non-scaling-stroke" transform="translate(1046.90,767.75) scale(0.9116,1.0000)" xml:space="preserve">and</text>
<text font-size="31.47" fill="#25272b" stroke="#25272b" stroke-width="0.1" vector-effect="non-scaling-stroke" transform="translate(1047.51,767.75) scale(0.9116,1.0000)" xml:space="preserve">and</text>
<text font-size="31.47" fill="#25272b" stroke="#25272b" stroke-width="0.1" vector-effect="non-scaling-stroke" transform="translate(1102.90,767.75) scale(0.9116,1.0000)" xml:space="preserve">add</text>
<text font-size="31.47" fill="#25272b" stroke="#25272b" stroke-width="0.1" vector-effect="non-scaling-stroke" transform="translate(1103.51,767.75) scale(0.9116,1.0000)" xml:space="preserve">add</text>
<text font-size="31.47" fill="#25272b" stroke="#25272b" stroke-width="0.1" vector-effect="non-scaling-stroke" transform="translate(1158.23,767.75) scale(0.9353,1.0000)" xml:space="preserve">2".</text>
<text font-size="31.47" fill="#25272b" stroke="#25272b" stroke-width="0.1" vector-effect="non-scaling-stroke" transform="translate(1158.78,767.75) scale(0.9353,1.0000)" xml:space="preserve">2".</text>
<text font-size="32.27" fill="#000" stroke="#000" stroke-width="0.2" vector-effect="non-scaling-stroke" transform="translate(32.60,156.00) rotate(90) scale(0.8748,1.0000)" xml:space="preserve">5</text>
<text font-size="32.27" fill="#000" stroke="#000" stroke-width="0.2" vector-effect="non-scaling-stroke" transform="translate(32.60,156.46) rotate(90) scale(0.8748,1.0000)" xml:space="preserve">5</text>
<text font-size="32.27" fill="#000" stroke="#000" stroke-width="0.2" vector-effect="non-scaling-stroke" transform="translate(32.60,187.72) rotate(90) scale(0.9327,1.0000)" xml:space="preserve">8</text>
<text font-size="32.27" fill="#000" stroke="#000" stroke-width="0.2" vector-effect="non-scaling-stroke" transform="translate(32.60,188.01) rotate(90) scale(0.9327,1.0000)" xml:space="preserve">8</text>
<text font-size="32.27" fill="#000" stroke="#000" stroke-width="0.2" vector-effect="non-scaling-stroke" transform="translate(32.60,206.41) rotate(90) scale(1.0075,1.0000)" xml:space="preserve">"</text>
<text font-size="32.27" fill="#000" stroke="#000" stroke-width="0.2" vector-effect="non-scaling-stroke" transform="translate(32.60,206.50) rotate(90) scale(1.0075,1.0000)" xml:space="preserve">"</text>
<text font-size="32.27" fill="#000" stroke="#000" stroke-width="0.2" vector-effect="non-scaling-stroke" transform="translate(32.60,228.78) rotate(90) scale(0.9313,1.0000)" xml:space="preserve">W</text>
<text font-size="32.27" fill="#000" stroke="#000" stroke-width="0.2" vector-effect="non-scaling-stroke" transform="translate(32.60,229.08) rotate(90) scale(0.9313,1.0000)" xml:space="preserve">W</text>
<text font-size="32.27" fill="#000" stroke="#000" stroke-width="0.2" vector-effect="non-scaling-stroke" transform="translate(32.60,257.05) rotate(90) scale(1.1667,1.0000)" xml:space="preserve">I</text>
<text font-size="32.27" fill="#000" stroke="#000" stroke-width="0.2" vector-effect="non-scaling-stroke" transform="translate(32.60,265.50) rotate(90) scale(0.8939,1.0000)" xml:space="preserve">D</text>
<text font-size="32.27" fill="#000" stroke="#000" stroke-width="0.2" vector-effect="non-scaling-stroke" transform="translate(32.60,265.91) rotate(90) scale(0.8939,1.0000)" xml:space="preserve">D</text>
<text font-size="32.27" fill="#000" stroke="#000" stroke-width="0.2" vector-effect="non-scaling-stroke" transform="translate(32.60,286.98) rotate(90) scale(0.6373,1.0000)" xml:space="preserve">E</text>
<text font-size="32.27" fill="#000" stroke="#000" stroke-width="0.2" vector-effect="non-scaling-stroke" transform="translate(32.60,288.12) rotate(90) scale(0.6373,1.0000)" xml:space="preserve">E</text>
<text font-size="32.27" fill="#000" stroke="#000" stroke-width="0.2" vector-effect="non-scaling-stroke" transform="translate(28.47,173.90) rotate(90) scale(1.4556,1.2463)" xml:space="preserve">/</text>
<text font-size="32.12" fill="#000" stroke="#000" stroke-width="0.2" vector-effect="non-scaling-stroke" transform="translate(32.80,369.89) rotate(90) scale(0.8840,1.0000)" xml:space="preserve">1</text>
<text font-size="32.12" fill="#000" stroke="#000" stroke-width="0.2" vector-effect="non-scaling-stroke" transform="translate(32.80,370.33) rotate(90) scale(0.8840,1.0000)" xml:space="preserve">1</text>
<text font-size="32.12" fill="#000" stroke="#000" stroke-width="0.2" vector-effect="non-scaling-stroke" transform="translate(32.80,389.45) rotate(90) scale(0.9063,1.0000)" xml:space="preserve">"</text>
<text font-size="32.12" fill="#000" stroke="#000" stroke-width="0.2" vector-effect="non-scaling-stroke" transform="translate(32.80,389.84) rotate(90) scale(0.9063,1.0000)" xml:space="preserve">"</text>
<text font-size="32.12" fill="#000" stroke="#000" stroke-width="0.2" vector-effect="non-scaling-stroke" transform="translate(32.80,410.68) rotate(90) scale(0.9351,1.0000)" xml:space="preserve">W</text>
<text font-size="32.12" fill="#000" stroke="#000" stroke-width="0.2" vector-effect="non-scaling-stroke" transform="translate(32.80,410.98) rotate(90) scale(0.9351,1.0000)" xml:space="preserve">W</text>
<text font-size="32.12" fill="#000" stroke="#000" stroke-width="0.2" vector-effect="non-scaling-stroke" transform="translate(32.80,438.95) rotate(90) scale(1.1667,1.0000)" xml:space="preserve">I</text>
<text font-size="32.12" fill="#000" stroke="#000" stroke-width="0.2" vector-effect="non-scaling-stroke" transform="translate(32.80,447.39) rotate(90) scale(0.9001,1.0000)" xml:space="preserve">D</text>
<text font-size="32.12" fill="#000" stroke="#000" stroke-width="0.2" vector-effect="non-scaling-stroke" transform="translate(32.80,447.79) rotate(90) scale(0.9001,1.0000)" xml:space="preserve">D</text>
<text font-size="32.12" fill="#000" stroke="#000" stroke-width="0.2" vector-effect="non-scaling-stroke" transform="translate(32.80,468.86) rotate(90) scale(0.6423,1.0000)" xml:space="preserve">E</text>
<text font-size="32.12" fill="#000" stroke="#000" stroke-width="0.2" vector-effect="non-scaling-stroke" transform="translate(32.80,470.00) rotate(90) scale(0.6423,1.0000)" xml:space="preserve">E</text>
<text font-size="31.98" fill="#000" stroke="#000" stroke-width="0.2" vector-effect="non-scaling-stroke" transform="translate(32.90,552.35) rotate(90) scale(0.8639,1.0000)" xml:space="preserve">1</text>
<text font-size="31.98" fill="#000" stroke="#000" stroke-width="0.2" vector-effect="non-scaling-stroke" transform="translate(32.90,552.86) rotate(90) scale(0.8639,1.0000)" xml:space="preserve">1</text>
<text font-size="31.98" fill="#000" stroke="#000" stroke-width="0.2" vector-effect="non-scaling-stroke" transform="translate(32.90,568.14) rotate(90) scale(1.3440,1.0000)" xml:space="preserve">.</text>
<text font-size="31.98" fill="#000" stroke="#000" stroke-width="0.2" vector-effect="non-scaling-stroke" transform="translate(32.90,578.23) rotate(90) scale(0.8574,1.0000)" xml:space="preserve">5</text>
<text font-size="31.98" fill="#000" stroke="#000" stroke-width="0.2" vector-effect="non-scaling-stroke" transform="translate(32.90,578.76) rotate(90) scale(0.8574,1.0000)" xml:space="preserve">5</text>
<text font-size="31.98" fill="#000" stroke="#000" stroke-width="0.2" vector-effect="non-scaling-stroke" transform="translate(32.90,604.71) rotate(90) scale(1.0075,1.0000)" xml:space="preserve">"</text>
<text font-size="31.98" fill="#000" stroke="#000" stroke-width="0.2" vector-effect="non-scaling-stroke" transform="translate(32.90,604.83) rotate(90) scale(1.0075,1.0000)" xml:space="preserve">"</text>
<text font-size="31.98" fill="#000" stroke="#000" stroke-width="0.2" vector-effect="non-scaling-stroke" transform="translate(32.90,626.73) rotate(90) scale(0.9390,1.0000)" xml:space="preserve">W</text>
<text font-size="31.98" fill="#000" stroke="#000" stroke-width="0.2" vector-effect="non-scaling-stroke" transform="translate(32.90,627.03) rotate(90) scale(0.9390,1.0000)" xml:space="preserve">W</text>
<text font-size="31.98" fill="#000" stroke="#000" stroke-width="0.2" vector-effect="non-scaling-stroke" transform="translate(32.90,654.85) rotate(90) scale(1.2174,1.0000)" xml:space="preserve">I</text>
<text font-size="31.98" fill="#000" stroke="#000" stroke-width="0.2" vector-effect="non-scaling-stroke" transform="translate(32.90,663.42) rotate(90) scale(0.9064,1.0000)" xml:space="preserve">D</text>
<text font-size="31.98" fill="#000" stroke="#000" stroke-width="0.2" vector-effect="non-scaling-stroke" transform="translate(32.90,663.81) rotate(90) scale(0.9064,1.0000)" xml:space="preserve">D</text>
<text font-size="31.98" fill="#000" stroke="#000" stroke-width="0.2" vector-effect="non-scaling-stroke" transform="translate(32.90,684.92) rotate(90) scale(0.6417,1.0000)" xml:space="preserve">E</text>
<text font-size="31.98" fill="#000" stroke="#000" stroke-width="0.2" vector-effect="non-scaling-stroke" transform="translate(32.90,686.07) rotate(90) scale(0.6417,1.0000)" xml:space="preserve">E</text>
</svg></div></body></html>
